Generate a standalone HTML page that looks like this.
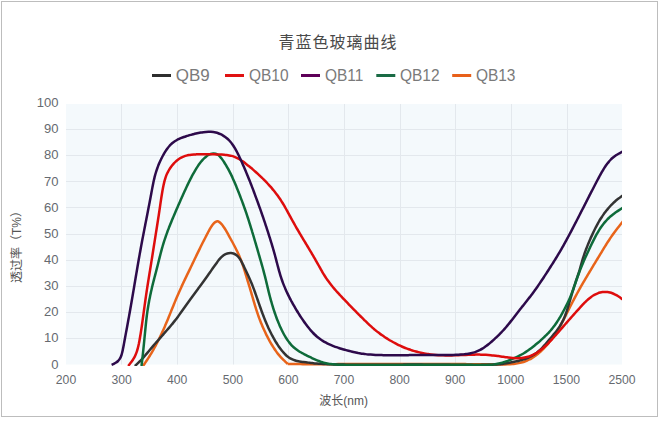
<!DOCTYPE html>
<html lang="zh"><head><meta charset="utf-8"><title>青蓝色玻璃曲线</title>
<style>
html,body{margin:0;padding:0;background:#fff}
body{width:658px;height:426px;position:relative;overflow:hidden;font-family:"Liberation Sans","Noto Sans CJK SC",sans-serif}
#box{position:absolute;left:1px;top:1px;width:655px;height:414px;border:1px solid #bdbdbd;background:#fff}
</style></head><body>
<div id="box"></div>
<svg width="658" height="426" viewBox="0 0 658 426" style="position:absolute;left:0;top:0;display:block" font-family='"Liberation Sans","Noto Sans CJK SC",sans-serif'>
<defs><clipPath id="cp"><rect x="66" y="90" width="556" height="275.9"/></clipPath></defs>
<rect x="66" y="104" width="556" height="260.5" fill="#f4f9fc"/>
<rect x="121" y="104" width="1" height="260.5" fill="#e3e8ed"/>
<rect x="177" y="104" width="1" height="260.5" fill="#e3e8ed"/>
<rect x="233" y="104" width="1" height="260.5" fill="#e3e8ed"/>
<rect x="288" y="104" width="1" height="260.5" fill="#e3e8ed"/>
<rect x="344" y="104" width="1" height="260.5" fill="#e3e8ed"/>
<rect x="400" y="104" width="1" height="260.5" fill="#e3e8ed"/>
<rect x="455" y="104" width="1" height="260.5" fill="#e3e8ed"/>
<rect x="511" y="104" width="1" height="260.5" fill="#e3e8ed"/>
<rect x="567" y="104" width="1" height="260.5" fill="#e3e8ed"/>
<rect x="66" y="129" width="556" height="1" fill="#e3e8ed"/>
<rect x="66" y="155" width="556" height="1" fill="#e3e8ed"/>
<rect x="66" y="181" width="556" height="1" fill="#e3e8ed"/>
<rect x="66" y="207" width="556" height="1" fill="#e3e8ed"/>
<rect x="66" y="234" width="556" height="1" fill="#e3e8ed"/>
<rect x="66" y="260" width="556" height="1" fill="#e3e8ed"/>
<rect x="66" y="286" width="556" height="1" fill="#e3e8ed"/>
<rect x="66" y="312" width="556" height="1" fill="#e3e8ed"/>
<rect x="66" y="338" width="556" height="1" fill="#e3e8ed"/>
<g clip-path="url(#cp)" fill="none" stroke-width="2.5" stroke-linejoin="round" stroke-linecap="butt">
<path d="M143.00 366.00 C143.24 365.65 143.96 364.61 144.43 363.92 C144.91 363.22 145.38 362.52 145.86 361.82 C146.33 361.12 146.79 360.42 147.26 359.72 C147.72 359.01 148.18 358.31 148.64 357.60 C149.09 356.89 149.54 356.17 149.99 355.46 C150.43 354.74 150.87 354.02 151.30 353.30 C151.73 352.57 152.16 351.84 152.58 351.11 C153.00 350.38 153.42 349.65 153.83 348.91 C154.24 348.18 154.65 347.44 155.05 346.70 C155.46 345.96 155.85 345.21 156.25 344.47 C156.64 343.72 157.03 342.97 157.42 342.22 C157.80 341.47 158.18 340.72 158.56 339.96 C158.94 339.21 159.31 338.45 159.68 337.69 C160.05 336.93 160.42 336.17 160.78 335.41 C161.14 334.64 161.50 333.88 161.86 333.11 C162.21 332.35 162.56 331.58 162.91 330.81 C163.26 330.04 163.61 329.27 163.95 328.50 C164.29 327.73 164.63 326.96 164.96 326.18 C165.30 325.41 165.63 324.63 165.96 323.85 C166.29 323.08 166.62 322.30 166.94 321.52 C167.27 320.74 167.59 319.96 167.91 319.18 C168.23 318.39 168.55 317.61 168.86 316.83 C169.18 316.05 169.49 315.26 169.81 314.48 C170.12 313.70 170.43 312.90 170.75 312.13 C171.06 311.35 171.37 310.59 171.68 309.82 C172.00 309.05 172.31 308.28 172.62 307.51 C172.93 306.74 173.24 305.97 173.56 305.21 C173.87 304.44 174.19 303.67 174.50 302.90 C174.82 302.14 175.14 301.37 175.45 300.60 C175.77 299.84 176.09 299.07 176.42 298.31 C176.74 297.54 177.06 296.78 177.39 296.02 C177.72 295.25 178.05 294.49 178.38 293.73 C178.71 292.97 179.04 292.21 179.38 291.45 C179.71 290.69 180.05 289.93 180.39 289.18 C180.73 288.42 181.07 287.66 181.42 286.91 C181.76 286.15 182.11 285.40 182.46 284.65 C182.81 283.90 183.16 283.14 183.51 282.39 C183.87 281.64 184.22 280.89 184.58 280.14 C184.94 279.39 185.30 278.64 185.66 277.90 C186.02 277.15 186.38 276.40 186.74 275.65 C187.11 274.91 187.47 274.16 187.83 273.41 C188.20 272.66 188.56 271.90 188.93 271.14 C189.29 270.38 189.65 269.62 190.02 268.86 C190.38 268.10 190.75 267.33 191.12 266.57 C191.48 265.81 191.85 265.05 192.21 264.29 C192.58 263.53 192.94 262.77 193.31 262.01 C193.67 261.24 194.04 260.48 194.40 259.72 C194.76 258.96 195.13 258.20 195.49 257.44 C195.86 256.68 196.23 255.92 196.59 255.16 C196.96 254.40 197.33 253.64 197.69 252.88 C198.06 252.12 198.43 251.36 198.80 250.60 C199.17 249.84 199.54 249.08 199.92 248.33 C200.29 247.57 200.67 246.81 201.04 246.06 C201.42 245.30 201.80 244.55 202.18 243.80 C202.56 243.04 202.94 242.29 203.33 241.54 C203.71 240.79 204.10 240.04 204.48 239.29 C204.87 238.54 205.25 237.79 205.64 237.03 C206.03 236.28 206.41 235.53 206.80 234.78 C207.18 234.03 207.57 233.28 207.96 232.53 C208.35 231.78 208.73 231.03 209.14 230.29 C209.54 229.54 209.95 228.80 210.38 228.08 C210.82 227.35 211.26 226.62 211.75 225.93 C212.24 225.23 212.74 224.53 213.33 223.91 C213.91 223.28 214.57 222.58 215.26 222.16 C215.96 221.73 216.76 221.32 217.50 221.35 C218.24 221.38 219.01 221.88 219.70 222.35 C220.38 222.82 221.02 223.54 221.60 224.18 C222.18 224.82 222.69 225.50 223.19 226.18 C223.70 226.86 224.16 227.57 224.61 228.28 C225.07 228.99 225.50 229.71 225.93 230.44 C226.36 231.16 226.77 231.90 227.19 232.64 C227.60 233.37 228.00 234.12 228.41 234.86 C228.81 235.60 229.22 236.34 229.63 237.08 C230.03 237.82 230.44 238.56 230.85 239.30 C231.26 240.04 231.67 240.78 232.07 241.52 C232.48 242.26 232.88 243.00 233.28 243.75 C233.68 244.49 234.08 245.24 234.47 245.99 C234.86 246.74 235.25 247.49 235.63 248.24 C236.01 248.99 236.38 249.75 236.75 250.51 C237.12 251.26 237.48 252.02 237.84 252.79 C238.19 253.55 238.54 254.32 238.88 255.09 C239.22 255.87 239.55 256.64 239.87 257.42 C240.20 258.20 240.51 258.98 240.82 259.76 C241.13 260.55 241.43 261.33 241.72 262.13 C242.01 262.92 242.30 263.71 242.58 264.50 C242.85 265.30 243.12 266.10 243.39 266.90 C243.65 267.70 243.91 268.50 244.17 269.31 C244.42 270.11 244.67 270.92 244.91 271.73 C245.16 272.53 245.40 273.33 245.64 274.13 C245.88 274.92 246.12 275.71 246.36 276.51 C246.59 277.30 246.83 278.10 247.07 278.89 C247.31 279.68 247.55 280.48 247.79 281.27 C248.03 282.06 248.27 282.86 248.51 283.65 C248.75 284.44 249.00 285.24 249.24 286.03 C249.48 286.82 249.72 287.62 249.96 288.41 C250.20 289.20 250.44 290.00 250.68 290.79 C250.91 291.58 251.15 292.38 251.38 293.17 C251.61 293.97 251.85 294.77 252.08 295.56 C252.31 296.36 252.54 297.15 252.77 297.95 C253.00 298.75 253.23 299.54 253.46 300.34 C253.69 301.13 253.92 301.93 254.16 302.72 C254.39 303.52 254.63 304.31 254.87 305.11 C255.11 305.90 255.35 306.69 255.60 307.48 C255.85 308.27 256.10 309.06 256.35 309.85 C256.61 310.64 256.87 311.42 257.13 312.22 C257.40 313.01 257.66 313.82 257.94 314.61 C258.22 315.41 258.50 316.21 258.78 317.00 C259.07 317.79 259.36 318.59 259.66 319.37 C259.96 320.16 260.27 320.95 260.58 321.73 C260.89 322.52 261.21 323.30 261.54 324.08 C261.86 324.86 262.19 325.64 262.53 326.41 C262.87 327.19 263.21 327.96 263.55 328.73 C263.90 329.50 264.25 330.27 264.61 331.03 C264.97 331.80 265.33 332.57 265.70 333.33 C266.06 334.09 266.43 334.85 266.81 335.61 C267.19 336.36 267.57 337.12 267.96 337.87 C268.35 338.62 268.74 339.37 269.15 340.11 C269.55 340.85 269.96 341.60 270.37 342.33 C270.79 343.07 271.21 343.80 271.65 344.52 C272.08 345.25 272.52 345.97 272.97 346.69 C273.42 347.40 273.88 348.11 274.34 348.81 C274.81 349.51 275.29 350.21 275.78 350.89 C276.27 351.58 276.77 352.25 277.28 352.92 C277.80 353.59 278.32 354.25 278.86 354.89 C279.39 355.54 279.94 356.18 280.50 356.80 C281.07 357.43 281.64 358.05 282.22 358.65 C282.81 359.26 283.40 359.86 284.00 360.45 C284.60 361.04 285.22 361.61 285.84 362.19 C286.45 362.76 287.39 363.61 287.70 363.90 M287.70 363.90 C288.12 363.91 289.38 363.93 290.22 363.95 C291.07 363.97 291.91 363.98 292.75 364.00 C293.59 364.01 294.43 364.03 295.27 364.04 C296.11 364.05 296.96 364.06 297.80 364.07 C298.64 364.09 299.48 364.10 300.32 364.10 C301.16 364.11 302.00 364.12 302.85 364.13 C303.69 364.14 304.53 364.14 305.37 364.15 C306.21 364.15 307.05 364.16 307.90 364.16 C308.74 364.17 309.58 364.17 310.42 364.17 C311.26 364.18 312.10 364.18 312.94 364.18 C313.79 364.18 314.63 364.18 315.47 364.18 C316.31 364.18 317.15 364.18 317.99 364.18 C318.84 364.18 319.68 364.18 320.52 364.18 C321.36 364.18 322.20 364.18 323.04 364.17 C323.89 364.17 324.73 364.17 325.57 364.17 C326.41 364.16 327.25 364.16 328.09 364.16 C328.94 364.15 329.78 364.15 330.62 364.15 C331.46 364.14 332.30 364.14 333.14 364.14 C333.99 364.13 334.83 364.13 335.67 364.13 C336.51 364.12 337.35 364.12 338.20 364.12 C339.04 364.12 339.88 364.11 340.72 364.11 C341.56 364.11 342.40 364.10 343.25 364.10 C344.09 364.10 344.93 364.10 345.77 364.09 C346.61 364.09 347.45 364.09 348.30 364.09 C349.14 364.09 349.98 364.08 350.82 364.08 C351.66 364.08 352.50 364.08 353.35 364.08 C354.19 364.08 355.03 364.08 355.87 364.08 C356.71 364.07 357.56 364.07 358.40 364.07 C359.24 364.07 360.08 364.07 360.92 364.07 C361.76 364.07 362.61 364.07 363.45 364.07 C364.29 364.07 365.13 364.07 365.97 364.07 C366.81 364.07 367.66 364.07 368.50 364.07 C369.34 364.07 370.18 364.07 371.02 364.07 C371.86 364.07 372.71 364.07 373.55 364.07 C374.39 364.07 375.23 364.07 376.07 364.07 C376.91 364.07 377.76 364.07 378.60 364.07 C379.44 364.07 380.28 364.07 381.12 364.07 C381.96 364.07 382.81 364.07 383.65 364.08 C384.49 364.08 385.33 364.08 386.17 364.08 C387.01 364.08 387.86 364.08 388.70 364.08 C389.54 364.08 390.38 364.08 391.22 364.08 C392.06 364.08 392.91 364.08 393.75 364.08 C394.59 364.08 395.43 364.09 396.27 364.09 C397.11 364.09 397.96 364.09 398.80 364.09 C399.64 364.09 400.48 364.09 401.32 364.09 C402.16 364.09 403.00 364.09 403.85 364.09 C404.69 364.09 405.53 364.09 406.37 364.09 C407.21 364.09 408.05 364.09 408.90 364.09 C409.74 364.10 410.58 364.10 411.42 364.10 C412.26 364.10 413.10 364.10 413.94 364.10 C414.79 364.10 415.63 364.10 416.47 364.10 C417.31 364.10 418.15 364.10 418.99 364.10 C419.83 364.10 420.67 364.10 421.52 364.09 C422.36 364.09 423.20 364.09 424.04 364.09 C424.88 364.09 425.72 364.09 426.56 364.09 C427.41 364.09 428.25 364.09 429.09 364.09 C429.93 364.09 430.77 364.09 431.61 364.09 C432.45 364.09 433.29 364.09 434.14 364.08 C434.98 364.08 435.82 364.08 436.66 364.08 C437.50 364.08 438.34 364.08 439.18 364.08 C440.02 364.08 440.87 364.08 441.71 364.08 C442.55 364.08 443.39 364.08 444.23 364.08 C445.07 364.08 445.91 364.08 446.75 364.08 C447.60 364.08 448.44 364.08 449.28 364.08 C450.12 364.08 450.96 364.08 451.80 364.08 C452.64 364.08 453.49 364.08 454.33 364.09 C455.17 364.09 456.01 364.09 456.85 364.09 C457.69 364.09 458.53 364.09 459.38 364.10 C460.22 364.10 461.06 364.10 461.90 364.10 C462.74 364.11 463.58 364.11 464.43 364.11 C465.27 364.12 466.11 364.12 466.95 364.13 C467.79 364.13 468.63 364.13 469.48 364.14 C470.32 364.14 471.16 364.15 472.00 364.15 C472.84 364.16 473.69 364.17 474.53 364.17 C475.37 364.18 476.21 364.18 477.05 364.19 C477.90 364.20 478.74 364.21 479.58 364.21 C480.42 364.22 481.26 364.23 482.11 364.24 C482.95 364.25 483.79 364.26 484.63 364.27 C485.48 364.28 486.32 364.29 487.16 364.30 C488.00 364.31 488.85 364.32 489.69 364.33 C490.53 364.34 491.37 364.36 492.22 364.37 C493.06 364.38 493.90 364.39 494.75 364.40 C495.59 364.42 496.43 364.43 497.28 364.43 C498.12 364.44 498.96 364.44 499.80 364.45 C500.65 364.45 501.49 364.45 502.33 364.44 C503.18 364.43 504.02 364.42 504.86 364.41 C505.71 364.39 506.55 364.37 507.39 364.34 C508.24 364.31 509.08 364.27 509.92 364.22 C510.76 364.17 511.60 364.11 512.44 364.04 C513.28 363.96 514.12 363.87 514.95 363.76 C515.79 363.65 516.62 363.52 517.45 363.38 C518.28 363.23 519.10 363.06 519.92 362.87 C520.74 362.68 521.55 362.48 522.36 362.24 C523.16 362.01 523.96 361.75 524.75 361.47 C525.54 361.19 526.32 360.89 527.10 360.56 C527.87 360.23 528.63 359.88 529.38 359.50 C530.13 359.12 530.86 358.72 531.59 358.30 C532.31 357.88 533.02 357.43 533.73 356.97 C534.43 356.50 535.11 356.01 535.79 355.51 C536.47 355.01 537.13 354.49 537.79 353.96 C538.44 353.42 539.08 352.88 539.72 352.32 C540.35 351.76 540.97 351.19 541.58 350.61 C542.19 350.03 542.80 349.44 543.39 348.84 C543.98 348.24 544.56 347.63 545.13 347.01 C545.70 346.39 546.26 345.76 546.82 345.12 C547.37 344.48 547.91 343.84 548.44 343.18 C548.97 342.53 549.49 341.87 550.01 341.20 C550.52 340.53 551.03 339.86 551.52 339.18 C552.02 338.50 552.51 337.82 553.00 337.13 C553.49 336.44 553.97 335.75 554.44 335.05 C554.92 334.36 555.39 333.66 555.85 332.95 C556.32 332.25 556.77 331.54 557.23 330.83 C557.68 330.12 558.12 329.41 558.56 328.69 C559.00 327.97 559.43 327.25 559.86 326.53 C560.28 325.80 560.70 325.07 561.11 324.34 C561.52 323.60 561.92 322.86 562.32 322.12 C562.71 321.38 563.10 320.63 563.49 319.88 C563.87 319.14 564.25 318.39 564.63 317.63 C565.01 316.88 565.38 316.13 565.75 315.37 C566.13 314.62 566.50 313.86 566.88 313.11 C567.25 312.36 567.62 311.61 568.00 310.87 C568.37 310.13 568.75 309.39 569.13 308.66 C569.50 307.92 569.88 307.18 570.26 306.45 C570.64 305.71 571.02 304.97 571.40 304.24 C571.78 303.50 572.17 302.77 572.55 302.03 C572.93 301.30 573.32 300.56 573.70 299.83 C574.09 299.10 574.48 298.36 574.86 297.63 C575.25 296.90 575.64 296.17 576.04 295.44 C576.43 294.71 576.82 293.98 577.22 293.25 C577.61 292.53 578.01 291.80 578.41 291.07 C578.81 290.35 579.21 289.62 579.61 288.90 C580.02 288.18 580.42 287.45 580.83 286.73 C581.24 286.01 581.65 285.29 582.06 284.57 C582.48 283.86 582.89 283.14 583.31 282.42 C583.73 281.71 584.15 280.99 584.57 280.28 C584.99 279.56 585.42 278.85 585.84 278.14 C586.26 277.43 586.69 276.72 587.12 276.01 C587.54 275.29 587.97 274.59 588.40 273.87 C588.83 273.16 589.26 272.44 589.69 271.72 C590.12 271.01 590.55 270.28 590.98 269.56 C591.41 268.83 591.85 268.11 592.28 267.39 C592.71 266.67 593.15 265.95 593.58 265.23 C594.02 264.51 594.46 263.79 594.89 263.07 C595.33 262.35 595.77 261.63 596.20 260.91 C596.64 260.19 597.08 259.47 597.52 258.75 C597.96 258.04 598.40 257.32 598.83 256.60 C599.27 255.88 599.71 255.16 600.15 254.44 C600.58 253.72 601.02 253.00 601.46 252.28 C601.89 251.56 602.33 250.84 602.76 250.12 C603.20 249.40 603.64 248.68 604.07 247.96 C604.51 247.25 604.95 246.53 605.39 245.81 C605.84 245.10 606.28 244.38 606.73 243.67 C607.18 242.96 607.63 242.25 608.09 241.54 C608.54 240.84 609.00 240.13 609.47 239.43 C609.93 238.73 610.40 238.03 610.87 237.34 C611.35 236.65 611.83 235.95 612.31 235.27 C612.79 234.58 613.28 233.89 613.77 233.21 C614.26 232.53 614.76 231.85 615.26 231.18 C615.77 230.50 616.27 229.83 616.78 229.16 C617.29 228.49 617.80 227.82 618.32 227.16 C618.83 226.49 619.35 225.83 619.87 225.17 C620.39 224.50 620.91 223.84 621.43 223.18 C621.95 222.52 622.74 221.53 623.00 221.20" stroke="#e8641a"/>
<path d="M134.80 366.00 C135.11 365.72 136.03 364.87 136.64 364.29 C137.25 363.72 137.86 363.15 138.46 362.57 C139.07 361.99 139.66 361.41 140.25 360.81 C140.84 360.22 141.42 359.62 141.99 359.01 C142.57 358.40 143.13 357.79 143.68 357.16 C144.24 356.54 144.79 355.91 145.33 355.27 C145.88 354.64 146.42 354.00 146.96 353.36 C147.49 352.72 148.03 352.07 148.56 351.43 C149.10 350.79 149.64 350.14 150.17 349.50 C150.71 348.86 151.25 348.22 151.79 347.58 C152.34 346.94 152.88 346.30 153.43 345.67 C153.97 345.03 154.52 344.40 155.07 343.77 C155.62 343.13 156.17 342.50 156.72 341.87 C157.27 341.24 157.82 340.61 158.37 339.98 C158.92 339.34 159.48 338.72 160.03 338.09 C160.58 337.46 161.13 336.83 161.69 336.20 C162.24 335.57 162.79 334.94 163.35 334.31 C163.90 333.68 164.45 333.05 165.00 332.42 C165.55 331.79 166.10 331.16 166.65 330.52 C167.20 329.89 167.75 329.26 168.30 328.62 C168.84 327.99 169.39 327.35 169.93 326.71 C170.47 326.08 171.01 325.44 171.54 324.79 C172.08 324.15 172.61 323.50 173.14 322.85 C173.67 322.20 174.19 321.55 174.71 320.89 C175.23 320.24 175.74 319.58 176.25 318.91 C176.76 318.25 177.26 317.58 177.76 316.91 C178.26 316.24 178.75 315.56 179.24 314.88 C179.73 314.20 180.22 313.52 180.70 312.84 C181.19 312.16 181.67 311.49 182.15 310.81 C182.63 310.14 183.11 309.46 183.58 308.79 C184.06 308.12 184.54 307.44 185.01 306.76 C185.49 306.09 185.96 305.41 186.44 304.74 C186.92 304.06 187.40 303.39 187.88 302.72 C188.36 302.05 188.84 301.37 189.32 300.70 C189.81 300.03 190.29 299.36 190.78 298.70 C191.27 298.03 191.75 297.36 192.24 296.69 C192.73 296.03 193.22 295.36 193.71 294.70 C194.20 294.03 194.69 293.37 195.18 292.70 C195.67 292.04 196.17 291.37 196.66 290.71 C197.15 290.05 197.64 289.38 198.13 288.72 C198.63 288.06 199.12 287.39 199.61 286.73 C200.10 286.06 200.59 285.40 201.08 284.74 C201.57 284.07 202.06 283.41 202.55 282.74 C203.03 282.07 203.52 281.41 204.00 280.74 C204.48 280.07 204.96 279.40 205.44 278.73 C205.92 278.06 206.40 277.38 206.87 276.71 C207.35 276.04 207.82 275.36 208.30 274.69 C208.77 274.01 209.25 273.34 209.73 272.66 C210.20 271.98 210.68 271.28 211.16 270.60 C211.64 269.91 212.12 269.22 212.60 268.54 C213.08 267.85 213.57 267.16 214.06 266.48 C214.55 265.80 215.04 265.11 215.53 264.43 C216.03 263.74 216.52 263.06 217.03 262.38 C217.53 261.70 218.04 261.01 218.56 260.34 C219.08 259.68 219.61 259.01 220.18 258.39 C220.74 257.77 221.32 257.16 221.94 256.60 C222.57 256.05 223.23 255.52 223.92 255.06 C224.62 254.61 225.37 254.19 226.14 253.88 C226.91 253.56 227.72 253.31 228.54 253.17 C229.35 253.02 230.21 252.97 231.03 253.02 C231.86 253.07 232.70 253.23 233.48 253.49 C234.25 253.75 235.01 254.13 235.70 254.58 C236.39 255.03 237.03 255.60 237.62 256.19 C238.21 256.77 238.75 257.44 239.26 258.11 C239.76 258.78 240.22 259.49 240.65 260.21 C241.09 260.93 241.49 261.68 241.89 262.42 C242.29 263.17 242.66 263.93 243.04 264.68 C243.42 265.44 243.79 266.19 244.15 266.95 C244.52 267.71 244.87 268.47 245.23 269.23 C245.59 269.99 245.94 270.75 246.29 271.51 C246.65 272.27 247.00 273.02 247.35 273.77 C247.70 274.52 248.05 275.26 248.39 276.01 C248.74 276.76 249.08 277.50 249.41 278.25 C249.75 279.01 250.08 279.76 250.40 280.51 C250.73 281.27 251.05 282.03 251.36 282.79 C251.67 283.55 251.98 284.31 252.28 285.07 C252.59 285.83 252.89 286.60 253.18 287.37 C253.47 288.14 253.76 288.90 254.05 289.68 C254.34 290.45 254.62 291.22 254.90 291.99 C255.18 292.76 255.46 293.54 255.73 294.31 C256.00 295.09 256.27 295.87 256.54 296.64 C256.82 297.42 257.08 298.20 257.35 298.98 C257.62 299.75 257.89 300.53 258.16 301.31 C258.42 302.09 258.69 302.87 258.96 303.64 C259.23 304.42 259.50 305.20 259.78 305.97 C260.05 306.75 260.32 307.53 260.60 308.30 C260.88 309.08 261.16 309.85 261.44 310.62 C261.73 311.40 262.01 312.17 262.30 312.96 C262.59 313.74 262.89 314.53 263.19 315.31 C263.48 316.09 263.78 316.87 264.09 317.65 C264.40 318.43 264.71 319.21 265.02 319.99 C265.34 320.76 265.66 321.54 265.98 322.31 C266.31 323.08 266.64 323.85 266.97 324.62 C267.31 325.39 267.65 326.15 268.00 326.92 C268.34 327.68 268.69 328.44 269.05 329.20 C269.41 329.95 269.77 330.71 270.14 331.46 C270.51 332.21 270.88 332.96 271.27 333.71 C271.65 334.46 272.04 335.20 272.43 335.94 C272.82 336.68 273.23 337.42 273.63 338.15 C274.04 338.88 274.46 339.61 274.88 340.33 C275.31 341.06 275.74 341.78 276.18 342.49 C276.62 343.21 277.07 343.92 277.53 344.62 C277.99 345.32 278.45 346.02 278.93 346.71 C279.41 347.40 279.90 348.08 280.41 348.76 C280.91 349.43 281.43 350.10 281.96 350.75 C282.49 351.40 283.03 352.05 283.59 352.68 C284.15 353.30 284.73 353.92 285.33 354.50 C285.93 355.09 286.54 355.66 287.18 356.19 C287.83 356.71 288.49 357.21 289.18 357.67 C289.88 358.13 290.60 358.55 291.33 358.92 C292.07 359.30 292.83 359.64 293.60 359.94 C294.37 360.25 295.17 360.50 295.97 360.73 C296.77 360.96 297.58 361.14 298.40 361.30 C299.22 361.47 300.05 361.60 300.89 361.73 C301.72 361.85 302.56 361.95 303.40 362.06 C304.24 362.16 305.08 362.25 305.91 362.35 C306.75 362.44 307.59 362.54 308.43 362.63 C309.26 362.73 310.10 362.82 310.93 362.91 C311.77 363.00 312.60 363.09 313.44 363.17 C314.27 363.26 315.10 363.34 315.94 363.41 C316.77 363.49 317.61 363.56 318.44 363.63 C319.28 363.70 320.11 363.76 320.95 363.82 C321.78 363.88 322.61 363.93 323.45 363.99 C324.29 364.04 325.12 364.08 325.96 364.12 C326.79 364.17 327.63 364.20 328.46 364.24 C329.30 364.27 330.14 364.30 330.97 364.33 C331.81 364.36 332.64 364.39 333.48 364.41 C334.32 364.44 335.15 364.46 335.99 364.48 C336.83 364.50 337.66 364.51 338.50 364.53 C339.34 364.55 340.18 364.56 341.01 364.58 C341.85 364.59 342.69 364.60 343.52 364.62 C344.36 364.63 345.20 364.64 346.03 364.65 C346.87 364.66 347.71 364.67 348.55 364.68 C349.38 364.69 350.22 364.70 351.06 364.70 C351.89 364.71 352.73 364.72 353.57 364.72 C354.41 364.73 355.24 364.73 356.08 364.74 C356.92 364.74 357.75 364.75 358.59 364.75 C359.43 364.75 360.27 364.76 361.10 364.76 C361.94 364.76 362.78 364.76 363.61 364.76 C364.45 364.76 365.29 364.76 366.13 364.76 C366.96 364.76 367.80 364.76 368.64 364.76 C369.48 364.76 370.31 364.76 371.15 364.76 C371.99 364.76 372.83 364.76 373.66 364.75 C374.50 364.75 375.34 364.75 376.18 364.74 C377.01 364.74 377.85 364.74 378.69 364.74 C379.53 364.73 380.36 364.73 381.20 364.72 C382.04 364.72 382.88 364.72 383.71 364.71 C384.55 364.71 385.39 364.70 386.23 364.70 C387.06 364.70 387.90 364.69 388.74 364.69 C389.58 364.68 390.42 364.68 391.25 364.67 C392.09 364.67 392.93 364.67 393.77 364.66 C394.60 364.66 395.44 364.65 396.28 364.65 C397.12 364.65 397.96 364.64 398.79 364.64 C399.63 364.64 400.47 364.63 401.31 364.63 C402.15 364.63 402.98 364.62 403.82 364.62 C404.66 364.62 405.50 364.61 406.33 364.61 C407.17 364.61 408.01 364.61 408.85 364.61 C409.69 364.61 410.52 364.61 411.36 364.61 C412.20 364.61 413.04 364.61 413.88 364.61 C414.72 364.61 415.55 364.61 416.39 364.61 C417.23 364.61 418.07 364.61 418.91 364.62 C419.74 364.62 420.58 364.62 421.42 364.62 C422.26 364.63 423.10 364.63 423.93 364.64 C424.77 364.64 425.61 364.65 426.45 364.65 C427.29 364.66 428.13 364.67 428.96 364.67 C429.80 364.68 430.64 364.69 431.48 364.69 C432.32 364.70 433.15 364.71 433.99 364.72 C434.83 364.72 435.67 364.73 436.51 364.74 C437.35 364.75 438.18 364.76 439.02 364.77 C439.86 364.77 440.70 364.78 441.54 364.79 C442.37 364.80 443.21 364.81 444.05 364.81 C444.89 364.82 445.73 364.83 446.57 364.84 C447.40 364.85 448.24 364.85 449.08 364.86 C449.92 364.87 450.76 364.88 451.59 364.88 C452.43 364.89 453.27 364.90 454.11 364.90 C454.94 364.91 455.78 364.91 456.62 364.92 C457.46 364.92 458.30 364.93 459.13 364.93 C459.97 364.94 460.81 364.94 461.65 364.94 C462.48 364.95 463.32 364.95 464.16 364.95 C465.00 364.95 465.83 364.95 466.67 364.95 C467.51 364.95 468.35 364.95 469.18 364.95 C470.02 364.95 470.86 364.95 471.70 364.95 C472.53 364.94 473.37 364.94 474.21 364.93 C475.04 364.93 475.88 364.92 476.72 364.91 C477.56 364.91 478.39 364.90 479.23 364.89 C480.07 364.88 480.90 364.87 481.74 364.86 C482.58 364.85 483.41 364.83 484.25 364.82 C485.09 364.80 485.92 364.79 486.76 364.77 C487.60 364.75 488.43 364.74 489.27 364.72 C490.10 364.70 490.94 364.68 491.78 364.65 C492.61 364.63 493.45 364.60 494.28 364.56 C495.12 364.52 495.95 364.48 496.78 364.43 C497.62 364.37 498.45 364.30 499.28 364.22 C500.11 364.14 500.94 364.04 501.77 363.93 C502.59 363.82 503.42 363.69 504.25 363.57 C505.07 363.44 505.90 363.30 506.73 363.16 C507.55 363.02 508.38 362.88 509.21 362.73 C510.03 362.58 510.86 362.42 511.68 362.27 C512.51 362.11 513.33 361.95 514.16 361.78 C514.98 361.61 515.80 361.44 516.63 361.27 C517.45 361.09 518.27 360.90 519.08 360.71 C519.90 360.51 520.71 360.30 521.52 360.08 C522.32 359.85 523.13 359.61 523.92 359.35 C524.72 359.09 525.51 358.82 526.29 358.52 C527.07 358.22 527.84 357.90 528.60 357.56 C529.36 357.22 530.11 356.85 530.85 356.46 C531.58 356.08 532.31 355.66 533.02 355.23 C533.73 354.79 534.43 354.33 535.11 353.86 C535.79 353.38 536.46 352.88 537.12 352.36 C537.77 351.84 538.42 351.31 539.04 350.75 C539.67 350.20 540.28 349.63 540.88 349.05 C541.48 348.47 542.07 347.87 542.64 347.26 C543.22 346.65 543.79 346.03 544.35 345.41 C544.91 344.78 545.46 344.15 546.01 343.51 C546.56 342.87 547.10 342.23 547.65 341.59 C548.20 340.95 548.74 340.30 549.29 339.66 C549.83 339.02 550.38 338.38 550.93 337.74 C551.48 337.10 552.03 336.46 552.57 335.82 C553.11 335.18 553.66 334.54 554.19 333.89 C554.72 333.24 555.25 332.59 555.76 331.93 C556.28 331.27 556.79 330.61 557.28 329.93 C557.78 329.26 558.26 328.58 558.73 327.89 C559.19 327.20 559.65 326.50 560.08 325.79 C560.52 325.08 560.94 324.36 561.35 323.63 C561.76 322.90 562.15 322.16 562.53 321.42 C562.91 320.68 563.27 319.92 563.62 319.17 C563.97 318.41 564.31 317.64 564.63 316.87 C564.95 316.10 565.25 315.32 565.54 314.54 C565.84 313.75 566.11 312.96 566.38 312.17 C566.65 311.39 566.91 310.61 567.16 309.83 C567.41 309.04 567.65 308.26 567.89 307.47 C568.13 306.68 568.37 305.89 568.60 305.10 C568.84 304.31 569.07 303.52 569.30 302.73 C569.53 301.94 569.76 301.15 570.00 300.36 C570.23 299.57 570.46 298.78 570.69 297.99 C570.92 297.20 571.16 296.41 571.39 295.62 C571.62 294.83 571.86 294.04 572.10 293.25 C572.33 292.47 572.57 291.68 572.81 290.89 C573.05 290.11 573.29 289.32 573.54 288.53 C573.78 287.75 574.03 286.97 574.28 286.18 C574.53 285.40 574.78 284.62 575.04 283.83 C575.29 283.05 575.55 282.27 575.81 281.49 C576.06 280.71 576.33 279.93 576.59 279.16 C576.86 278.38 577.12 277.60 577.39 276.83 C577.66 276.05 577.93 275.28 578.19 274.50 C578.45 273.72 578.71 272.94 578.97 272.15 C579.22 271.36 579.46 270.55 579.70 269.75 C579.93 268.95 580.16 268.14 580.38 267.34 C580.61 266.53 580.82 265.72 581.04 264.92 C581.27 264.11 581.48 263.30 581.71 262.50 C581.94 261.70 582.17 260.89 582.41 260.09 C582.65 259.29 582.89 258.49 583.15 257.69 C583.40 256.89 583.66 256.10 583.93 255.31 C584.19 254.51 584.46 253.72 584.74 252.93 C585.02 252.14 585.31 251.36 585.60 250.57 C585.89 249.79 586.18 249.00 586.49 248.22 C586.79 247.44 587.09 246.66 587.41 245.88 C587.72 245.10 588.03 244.33 588.35 243.55 C588.68 242.78 589.00 242.01 589.33 241.24 C589.66 240.46 589.99 239.69 590.33 238.93 C590.66 238.16 591.00 237.39 591.35 236.63 C591.69 235.86 592.04 235.10 592.40 234.34 C592.75 233.58 593.11 232.82 593.47 232.06 C593.83 231.31 594.20 230.55 594.57 229.80 C594.94 229.05 595.31 228.30 595.69 227.55 C596.08 226.80 596.46 226.06 596.86 225.32 C597.25 224.58 597.65 223.85 598.06 223.11 C598.47 222.38 598.89 221.66 599.32 220.94 C599.74 220.22 600.18 219.50 600.63 218.79 C601.07 218.09 601.53 217.38 602.00 216.69 C602.46 215.99 602.94 215.30 603.42 214.62 C603.91 213.94 604.40 213.26 604.91 212.59 C605.41 211.92 605.93 211.26 606.45 210.60 C606.97 209.95 607.50 209.30 608.04 208.66 C608.58 208.02 609.13 207.39 609.69 206.76 C610.24 206.14 610.81 205.52 611.39 204.92 C611.97 204.31 612.56 203.72 613.16 203.14 C613.76 202.56 614.37 201.99 615.00 201.44 C615.62 200.89 616.26 200.35 616.91 199.83 C617.56 199.31 618.23 198.80 618.90 198.30 C619.57 197.80 620.25 197.32 620.93 196.83 C621.62 196.35 622.66 195.64 623.00 195.40" stroke="#333333"/>
<path d="M141.50 366.00 C141.55 365.58 141.69 364.34 141.79 363.51 C141.89 362.68 141.98 361.85 142.08 361.02 C142.18 360.19 142.27 359.36 142.37 358.53 C142.46 357.70 142.55 356.87 142.65 356.03 C142.74 355.20 142.83 354.37 142.92 353.54 C143.01 352.71 143.10 351.88 143.19 351.05 C143.27 350.22 143.36 349.39 143.44 348.55 C143.53 347.72 143.61 346.89 143.70 346.06 C143.78 345.23 143.87 344.40 143.95 343.56 C144.03 342.73 144.11 341.90 144.20 341.07 C144.28 340.24 144.36 339.40 144.44 338.57 C144.52 337.74 144.60 336.91 144.69 336.08 C144.77 335.24 144.85 334.41 144.93 333.58 C145.01 332.75 145.09 331.91 145.18 331.08 C145.26 330.25 145.34 329.42 145.42 328.59 C145.50 327.75 145.59 326.92 145.67 326.09 C145.76 325.26 145.84 324.43 145.93 323.60 C146.01 322.76 146.10 321.93 146.19 321.10 C146.28 320.27 146.38 319.44 146.47 318.61 C146.57 317.78 146.67 316.95 146.77 316.12 C146.88 315.29 146.99 314.46 147.10 313.63 C147.21 312.81 147.32 311.98 147.44 311.17 C147.56 310.35 147.68 309.55 147.81 308.74 C147.94 307.93 148.07 307.12 148.20 306.31 C148.34 305.50 148.47 304.70 148.62 303.89 C148.76 303.08 148.90 302.27 149.05 301.47 C149.20 300.66 149.35 299.86 149.51 299.05 C149.66 298.25 149.82 297.44 149.99 296.64 C150.15 295.84 150.32 295.03 150.49 294.23 C150.66 293.43 150.83 292.63 151.01 291.83 C151.18 291.03 151.36 290.23 151.55 289.43 C151.73 288.63 151.92 287.83 152.10 287.03 C152.29 286.24 152.49 285.44 152.68 284.64 C152.88 283.85 153.08 283.05 153.28 282.25 C153.48 281.46 153.68 280.66 153.89 279.87 C154.09 279.08 154.30 278.28 154.50 277.49 C154.71 276.69 154.92 275.90 155.13 275.11 C155.34 274.31 155.55 273.53 155.76 272.72 C155.96 271.92 156.17 271.11 156.38 270.30 C156.59 269.49 156.80 268.68 157.01 267.87 C157.22 267.06 157.43 266.25 157.63 265.44 C157.84 264.63 158.04 263.81 158.25 263.00 C158.45 262.19 158.65 261.38 158.85 260.57 C159.06 259.76 159.26 258.95 159.46 258.14 C159.66 257.33 159.87 256.51 160.07 255.70 C160.28 254.89 160.49 254.08 160.70 253.27 C160.91 252.47 161.12 251.66 161.33 250.85 C161.55 250.04 161.77 249.24 161.99 248.43 C162.22 247.63 162.45 246.82 162.68 246.02 C162.92 245.22 163.16 244.42 163.40 243.62 C163.65 242.82 163.90 242.03 164.15 241.23 C164.41 240.44 164.66 239.64 164.93 238.85 C165.19 238.06 165.46 237.27 165.73 236.48 C166.01 235.69 166.28 234.90 166.57 234.11 C166.85 233.32 167.13 232.54 167.42 231.76 C167.71 230.97 168.01 230.19 168.31 229.41 C168.60 228.63 168.91 227.85 169.21 227.07 C169.51 226.29 169.82 225.51 170.13 224.74 C170.44 223.96 170.76 223.19 171.07 222.41 C171.39 221.64 171.71 220.87 172.03 220.09 C172.35 219.32 172.67 218.55 172.99 217.78 C173.32 217.01 173.64 216.24 173.97 215.47 C174.29 214.70 174.62 213.93 174.95 213.16 C175.28 212.39 175.61 211.62 175.94 210.85 C176.27 210.09 176.60 209.32 176.94 208.55 C177.27 207.78 177.60 207.02 177.93 206.25 C178.27 205.48 178.60 204.72 178.94 203.95 C179.27 203.18 179.61 202.42 179.95 201.65 C180.28 200.89 180.62 200.12 180.96 199.36 C181.30 198.59 181.64 197.83 181.98 197.06 C182.32 196.30 182.66 195.53 183.00 194.77 C183.34 194.01 183.68 193.25 184.03 192.48 C184.37 191.72 184.72 190.96 185.07 190.20 C185.41 189.44 185.77 188.68 186.12 187.92 C186.47 187.16 186.83 186.41 187.19 185.65 C187.55 184.90 187.91 184.14 188.28 183.39 C188.64 182.64 189.01 181.89 189.39 181.14 C189.76 180.39 190.14 179.64 190.52 178.90 C190.90 178.16 191.29 177.41 191.68 176.67 C192.08 175.94 192.47 175.20 192.88 174.46 C193.28 173.73 193.69 173.00 194.10 172.27 C194.51 171.55 194.93 170.82 195.36 170.10 C195.79 169.38 196.22 168.66 196.66 167.95 C197.11 167.25 197.56 166.54 198.03 165.85 C198.49 165.15 198.97 164.47 199.47 163.79 C199.96 163.12 200.47 162.45 201.00 161.80 C201.52 161.15 202.07 160.51 202.64 159.89 C203.20 159.27 203.79 158.67 204.40 158.09 C205.02 157.51 205.65 156.93 206.32 156.42 C206.98 155.90 207.67 155.40 208.40 154.99 C209.13 154.59 209.90 154.22 210.69 153.98 C211.48 153.74 212.33 153.57 213.15 153.54 C213.96 153.51 214.82 153.59 215.60 153.80 C216.39 154.01 217.15 154.35 217.84 154.79 C218.53 155.22 219.15 155.80 219.74 156.40 C220.33 156.99 220.87 157.68 221.40 158.34 C221.93 159.01 222.42 159.70 222.91 160.39 C223.39 161.08 223.86 161.78 224.31 162.49 C224.77 163.19 225.21 163.91 225.64 164.62 C226.07 165.34 226.49 166.06 226.91 166.79 C227.33 167.51 227.74 168.24 228.14 168.97 C228.55 169.70 228.94 170.44 229.33 171.18 C229.72 171.92 230.10 172.66 230.47 173.41 C230.84 174.15 231.21 174.90 231.57 175.66 C231.93 176.41 232.28 177.17 232.62 177.93 C232.97 178.69 233.31 179.45 233.64 180.22 C233.98 180.98 234.30 181.75 234.63 182.52 C234.96 183.29 235.28 184.06 235.60 184.84 C235.92 185.61 236.24 186.38 236.55 187.16 C236.87 187.93 237.18 188.70 237.50 189.48 C237.81 190.26 238.12 191.03 238.43 191.81 C238.74 192.59 239.04 193.37 239.35 194.14 C239.65 194.92 239.96 195.70 240.26 196.48 C240.56 197.26 240.86 198.04 241.15 198.83 C241.45 199.61 241.75 200.39 242.04 201.17 C242.33 201.96 242.62 202.74 242.91 203.53 C243.20 204.31 243.48 205.10 243.77 205.88 C244.05 206.67 244.33 207.46 244.61 208.25 C244.89 209.03 245.17 209.82 245.44 210.61 C245.71 211.40 245.99 212.19 246.25 212.98 C246.52 213.78 246.79 214.57 247.05 215.36 C247.32 216.15 247.58 216.95 247.84 217.74 C248.10 218.54 248.35 219.33 248.61 220.13 C248.87 220.92 249.12 221.72 249.37 222.52 C249.62 223.31 249.87 224.11 250.12 224.91 C250.37 225.71 250.62 226.51 250.86 227.31 C251.11 228.11 251.35 228.91 251.60 229.71 C251.84 230.51 252.08 231.31 252.32 232.11 C252.56 232.91 252.80 233.71 253.04 234.51 C253.28 235.31 253.52 236.11 253.76 236.91 C253.99 237.71 254.23 238.52 254.47 239.32 C254.70 240.12 254.94 240.92 255.17 241.73 C255.41 242.53 255.64 243.33 255.88 244.13 C256.11 244.94 256.34 245.74 256.58 246.54 C256.81 247.34 257.04 248.15 257.28 248.95 C257.51 249.75 257.74 250.56 257.98 251.36 C258.21 252.16 258.44 252.96 258.67 253.77 C258.91 254.57 259.14 255.37 259.37 256.18 C259.60 256.98 259.83 257.78 260.07 258.59 C260.30 259.39 260.53 260.19 260.76 261.00 C260.99 261.80 261.22 262.60 261.45 263.41 C261.68 264.21 261.91 265.01 262.14 265.82 C262.36 266.62 262.59 267.43 262.81 268.23 C263.03 269.04 263.25 269.85 263.47 270.65 C263.68 271.46 263.89 272.27 264.10 273.07 C264.31 273.87 264.52 274.66 264.73 275.45 C264.93 276.25 265.13 277.04 265.33 277.84 C265.53 278.63 265.72 279.43 265.92 280.22 C266.11 281.02 266.30 281.82 266.49 282.62 C266.68 283.41 266.87 284.21 267.06 285.01 C267.25 285.81 267.44 286.61 267.63 287.41 C267.82 288.20 268.01 289.00 268.20 289.80 C268.39 290.60 268.58 291.39 268.78 292.19 C268.98 292.98 269.18 293.78 269.38 294.57 C269.59 295.37 269.79 296.16 270.00 296.96 C270.22 297.75 270.43 298.54 270.65 299.33 C270.86 300.12 271.08 300.91 271.31 301.70 C271.53 302.49 271.76 303.28 271.99 304.07 C272.23 304.86 272.46 305.64 272.70 306.43 C272.94 307.21 273.19 308.00 273.44 308.78 C273.69 309.56 273.94 310.34 274.20 311.12 C274.46 311.91 274.72 312.70 274.99 313.48 C275.26 314.27 275.54 315.07 275.82 315.85 C276.10 316.64 276.39 317.43 276.68 318.21 C276.97 319.00 277.27 319.78 277.58 320.56 C277.88 321.34 278.20 322.11 278.52 322.89 C278.84 323.66 279.16 324.43 279.50 325.20 C279.83 325.97 280.18 326.73 280.53 327.49 C280.88 328.25 281.23 329.01 281.60 329.76 C281.96 330.52 282.34 331.27 282.72 332.01 C283.11 332.76 283.50 333.50 283.90 334.23 C284.31 334.97 284.72 335.70 285.15 336.41 C285.58 337.13 286.02 337.85 286.47 338.55 C286.93 339.25 287.39 339.95 287.88 340.63 C288.36 341.31 288.86 341.98 289.38 342.64 C289.90 343.29 290.43 343.93 290.98 344.56 C291.54 345.18 292.11 345.78 292.70 346.36 C293.30 346.94 293.92 347.50 294.55 348.03 C295.19 348.57 295.85 349.08 296.52 349.57 C297.19 350.06 297.88 350.53 298.58 350.98 C299.28 351.43 300.00 351.87 300.72 352.29 C301.44 352.72 302.17 353.12 302.91 353.53 C303.64 353.93 304.39 354.31 305.13 354.70 C305.88 355.08 306.63 355.46 307.38 355.84 C308.13 356.21 308.88 356.59 309.64 356.95 C310.39 357.32 311.15 357.69 311.91 358.04 C312.67 358.40 313.43 358.75 314.19 359.10 C314.95 359.44 315.72 359.78 316.49 360.10 C317.26 360.42 318.04 360.74 318.82 361.03 C319.60 361.33 320.38 361.61 321.17 361.87 C321.96 362.13 322.76 362.37 323.56 362.59 C324.37 362.81 325.18 363.01 325.99 363.18 C326.80 363.36 327.62 363.52 328.44 363.66 C329.26 363.80 330.09 363.92 330.91 364.03 C331.74 364.14 332.57 364.23 333.40 364.31 C334.23 364.39 335.07 364.46 335.90 364.52 C336.73 364.58 337.57 364.63 338.40 364.67 C339.24 364.71 340.07 364.75 340.91 364.78 C341.75 364.81 342.58 364.84 343.42 364.86 C344.26 364.88 345.10 364.89 345.93 364.91 C346.77 364.92 347.61 364.93 348.45 364.94 C349.28 364.95 350.12 364.96 350.96 364.97 C351.80 364.98 352.63 364.98 353.47 364.99 C354.31 365.00 355.15 365.00 355.98 365.01 C356.82 365.01 357.66 365.02 358.50 365.02 C359.33 365.02 360.17 365.03 361.01 365.03 C361.84 365.03 362.68 365.04 363.52 365.04 C364.36 365.04 365.19 365.04 366.03 365.04 C366.87 365.04 367.70 365.04 368.54 365.04 C369.38 365.04 370.21 365.04 371.05 365.04 C371.89 365.04 372.72 365.04 373.56 365.04 C374.40 365.04 375.23 365.04 376.07 365.03 C376.91 365.03 377.74 365.03 378.58 365.03 C379.41 365.02 380.25 365.02 381.09 365.02 C381.92 365.01 382.76 365.01 383.60 365.01 C384.43 365.00 385.27 365.00 386.10 364.99 C386.94 364.99 387.78 364.99 388.61 364.98 C389.45 364.98 390.28 364.97 391.12 364.97 C391.95 364.96 392.79 364.96 393.63 364.95 C394.46 364.95 395.30 364.94 396.13 364.94 C396.97 364.93 397.80 364.93 398.64 364.92 C399.48 364.92 400.31 364.91 401.15 364.91 C401.98 364.90 402.82 364.90 403.65 364.89 C404.49 364.89 405.32 364.88 406.16 364.88 C407.00 364.87 407.83 364.87 408.67 364.86 C409.50 364.86 410.34 364.85 411.17 364.85 C412.01 364.84 412.84 364.84 413.68 364.83 C414.51 364.83 415.35 364.83 416.18 364.82 C417.02 364.82 417.85 364.81 418.69 364.81 C419.52 364.81 420.36 364.81 421.19 364.80 C422.03 364.80 422.86 364.80 423.70 364.79 C424.53 364.79 425.37 364.79 426.20 364.79 C427.04 364.79 427.87 364.78 428.71 364.78 C429.54 364.78 430.38 364.78 431.21 364.78 C432.05 364.78 432.88 364.78 433.72 364.78 C434.55 364.78 435.39 364.78 436.22 364.78 C437.06 364.78 437.89 364.78 438.73 364.78 C439.56 364.78 440.40 364.78 441.23 364.78 C442.07 364.78 442.90 364.78 443.74 364.78 C444.57 364.78 445.41 364.78 446.24 364.78 C447.08 364.79 447.91 364.79 448.75 364.79 C449.59 364.79 450.42 364.79 451.26 364.79 C452.09 364.80 452.93 364.80 453.76 364.80 C454.60 364.80 455.44 364.81 456.27 364.81 C457.11 364.81 457.95 364.81 458.78 364.82 C459.62 364.82 460.46 364.82 461.29 364.83 C462.13 364.83 462.97 364.83 463.80 364.83 C464.64 364.84 465.48 364.84 466.32 364.84 C467.15 364.85 467.99 364.85 468.83 364.86 C469.67 364.86 470.50 364.86 471.34 364.87 C472.18 364.87 473.02 364.87 473.86 364.88 C474.69 364.88 475.53 364.89 476.37 364.89 C477.21 364.89 478.05 364.90 478.89 364.90 C479.73 364.91 480.57 364.91 481.41 364.91 C482.25 364.92 483.09 364.92 483.93 364.91 C484.76 364.91 485.60 364.90 486.44 364.88 C487.28 364.86 488.11 364.83 488.95 364.79 C489.78 364.75 490.61 364.70 491.44 364.63 C492.27 364.56 493.10 364.48 493.92 364.37 C494.75 364.27 495.57 364.14 496.39 363.99 C497.21 363.85 498.02 363.68 498.83 363.50 C499.65 363.31 500.45 363.11 501.26 362.89 C502.06 362.67 502.86 362.43 503.66 362.18 C504.46 361.94 505.25 361.67 506.04 361.40 C506.84 361.13 507.62 360.85 508.41 360.56 C509.20 360.27 509.98 359.97 510.76 359.66 C511.53 359.35 512.31 359.04 513.08 358.71 C513.85 358.38 514.61 358.04 515.37 357.69 C516.13 357.34 516.88 356.98 517.63 356.60 C518.38 356.23 519.12 355.84 519.86 355.45 C520.59 355.05 521.32 354.65 522.05 354.23 C522.77 353.81 523.49 353.38 524.20 352.95 C524.91 352.51 525.61 352.06 526.31 351.60 C527.01 351.14 527.70 350.67 528.39 350.20 C529.08 349.72 529.75 349.23 530.43 348.73 C531.10 348.24 531.77 347.74 532.43 347.22 C533.10 346.71 533.75 346.20 534.41 345.67 C535.06 345.15 535.71 344.62 536.35 344.08 C537.00 343.55 537.64 343.01 538.28 342.46 C538.91 341.92 539.55 341.37 540.17 340.81 C540.80 340.26 541.43 339.70 542.04 339.14 C542.66 338.57 543.28 338.00 543.89 337.43 C544.49 336.85 545.10 336.27 545.69 335.68 C546.29 335.10 546.88 334.51 547.46 333.91 C548.04 333.31 548.62 332.70 549.19 332.09 C549.75 331.47 550.31 330.85 550.86 330.22 C551.40 329.59 551.94 328.95 552.46 328.30 C552.99 327.66 553.50 327.00 554.00 326.33 C554.50 325.66 554.99 324.99 555.46 324.30 C555.94 323.62 556.41 322.93 556.87 322.23 C557.33 321.53 557.78 320.83 558.23 320.12 C558.67 319.41 559.11 318.70 559.54 317.98 C559.97 317.26 560.40 316.54 560.81 315.82 C561.23 315.09 561.65 314.36 562.06 313.63 C562.46 312.91 562.87 312.17 563.26 311.44 C563.66 310.72 564.05 310.00 564.43 309.27 C564.82 308.54 565.20 307.81 565.57 307.07 C565.95 306.34 566.31 305.60 566.67 304.86 C567.04 304.13 567.39 303.38 567.74 302.64 C568.09 301.90 568.44 301.15 568.77 300.40 C569.11 299.65 569.44 298.90 569.77 298.15 C570.10 297.39 570.41 296.63 570.73 295.87 C571.04 295.12 571.35 294.35 571.65 293.59 C571.95 292.83 572.24 292.06 572.53 291.29 C572.81 290.52 573.09 289.75 573.37 288.98 C573.65 288.20 573.92 287.43 574.18 286.65 C574.45 285.88 574.72 285.10 574.99 284.32 C575.25 283.55 575.51 282.77 575.78 281.99 C576.05 281.22 576.31 280.44 576.58 279.66 C576.85 278.89 577.12 278.11 577.39 277.34 C577.67 276.56 577.95 275.79 578.23 275.02 C578.51 274.25 578.80 273.49 579.09 272.71 C579.38 271.94 579.67 271.15 579.97 270.37 C580.27 269.59 580.58 268.81 580.89 268.03 C581.20 267.26 581.51 266.48 581.83 265.71 C582.15 264.94 582.47 264.17 582.79 263.40 C583.12 262.63 583.45 261.86 583.78 261.09 C584.11 260.33 584.45 259.56 584.79 258.80 C585.13 258.03 585.47 257.27 585.82 256.51 C586.16 255.75 586.51 254.98 586.86 254.22 C587.21 253.46 587.56 252.70 587.91 251.94 C588.26 251.19 588.61 250.43 588.97 249.67 C589.33 248.91 589.68 248.15 590.04 247.40 C590.40 246.64 590.77 245.89 591.13 245.13 C591.49 244.38 591.86 243.62 592.23 242.87 C592.60 242.12 592.97 241.37 593.34 240.62 C593.72 239.87 594.10 239.12 594.48 238.38 C594.87 237.64 595.26 236.89 595.65 236.16 C596.05 235.42 596.45 234.69 596.86 233.96 C597.27 233.23 597.69 232.50 598.12 231.78 C598.55 231.06 598.99 230.35 599.43 229.64 C599.88 228.94 600.34 228.24 600.81 227.54 C601.28 226.85 601.76 226.17 602.25 225.50 C602.75 224.82 603.25 224.16 603.77 223.51 C604.29 222.86 604.83 222.22 605.37 221.59 C605.92 220.97 606.49 220.35 607.06 219.75 C607.64 219.15 608.23 218.56 608.83 217.99 C609.43 217.41 610.05 216.85 610.68 216.30 C611.31 215.76 611.95 215.22 612.60 214.71 C613.25 214.19 613.92 213.68 614.59 213.19 C615.26 212.69 615.95 212.21 616.63 211.74 C617.32 211.27 618.02 210.81 618.73 210.35 C619.43 209.90 620.14 209.46 620.85 209.01 C621.57 208.57 622.64 207.92 623.00 207.70" stroke="#0e6b3a"/>
<path d="M128.20 366.00 C128.46 365.67 129.26 364.70 129.78 364.05 C130.30 363.39 130.82 362.73 131.32 362.06 C131.82 361.39 132.30 360.71 132.76 360.02 C133.21 359.32 133.64 358.61 134.05 357.89 C134.45 357.17 134.83 356.43 135.18 355.68 C135.53 354.93 135.86 354.16 136.16 353.38 C136.45 352.61 136.72 351.82 136.98 351.03 C137.23 350.23 137.47 349.43 137.69 348.62 C137.91 347.81 138.11 347.00 138.30 346.19 C138.49 345.37 138.67 344.55 138.85 343.73 C139.02 342.91 139.18 342.09 139.34 341.27 C139.49 340.44 139.64 339.62 139.79 338.79 C139.93 337.97 140.07 337.14 140.21 336.31 C140.35 335.49 140.48 334.66 140.62 333.83 C140.75 333.01 140.88 332.18 141.01 331.35 C141.14 330.52 141.26 329.70 141.39 328.87 C141.51 328.04 141.63 327.21 141.76 326.38 C141.88 325.56 142.00 324.73 142.11 323.90 C142.23 323.07 142.35 322.24 142.47 321.41 C142.58 320.58 142.70 319.76 142.81 318.93 C142.93 318.10 143.04 317.27 143.15 316.44 C143.26 315.61 143.38 314.78 143.49 313.95 C143.60 313.13 143.71 312.30 143.83 311.48 C143.94 310.66 144.05 309.85 144.16 309.04 C144.27 308.23 144.39 307.42 144.50 306.60 C144.61 305.79 144.72 304.98 144.83 304.17 C144.95 303.36 145.06 302.55 145.17 301.73 C145.29 300.92 145.40 300.11 145.52 299.30 C145.63 298.49 145.75 297.68 145.86 296.86 C145.98 296.05 146.10 295.24 146.22 294.43 C146.33 293.62 146.45 292.81 146.57 292.00 C146.69 291.19 146.82 290.38 146.94 289.57 C147.06 288.76 147.19 287.95 147.31 287.13 C147.44 286.32 147.56 285.51 147.69 284.71 C147.82 283.90 147.95 283.09 148.08 282.28 C148.21 281.47 148.34 280.66 148.47 279.85 C148.60 279.04 148.73 278.23 148.86 277.42 C148.99 276.61 149.13 275.80 149.26 274.99 C149.39 274.18 149.52 273.38 149.66 272.56 C149.79 271.74 149.92 270.91 150.06 270.08 C150.19 269.26 150.32 268.43 150.46 267.61 C150.59 266.78 150.72 265.96 150.86 265.13 C150.99 264.30 151.12 263.48 151.26 262.65 C151.39 261.83 151.52 261.00 151.65 260.18 C151.78 259.35 151.92 258.52 152.05 257.70 C152.18 256.87 152.31 256.05 152.44 255.22 C152.57 254.40 152.70 253.57 152.83 252.74 C152.96 251.92 153.09 251.09 153.22 250.27 C153.36 249.44 153.49 248.61 153.62 247.79 C153.75 246.96 153.88 246.14 154.01 245.31 C154.14 244.48 154.27 243.66 154.40 242.83 C154.53 242.01 154.66 241.18 154.79 240.35 C154.92 239.53 155.05 238.70 155.18 237.88 C155.31 237.05 155.44 236.22 155.57 235.40 C155.70 234.57 155.83 233.75 155.96 232.92 C156.10 232.10 156.23 231.27 156.36 230.44 C156.49 229.62 156.62 228.79 156.75 227.97 C156.88 227.14 157.01 226.31 157.14 225.49 C157.27 224.66 157.40 223.84 157.53 223.01 C157.66 222.18 157.79 221.36 157.92 220.53 C158.05 219.70 158.17 218.88 158.30 218.05 C158.43 217.23 158.55 216.40 158.68 215.57 C158.81 214.74 158.93 213.92 159.05 213.09 C159.18 212.26 159.30 211.44 159.42 210.61 C159.54 209.78 159.67 208.95 159.79 208.13 C159.91 207.30 160.03 206.47 160.15 205.64 C160.27 204.81 160.39 203.99 160.51 203.16 C160.63 202.33 160.75 201.50 160.88 200.67 C161.00 199.85 161.13 199.02 161.25 198.19 C161.38 197.36 161.51 196.54 161.64 195.71 C161.78 194.88 161.91 194.06 162.05 193.23 C162.19 192.40 162.33 191.58 162.47 190.75 C162.62 189.93 162.77 189.11 162.93 188.28 C163.09 187.46 163.25 186.64 163.42 185.82 C163.60 185.00 163.77 184.18 163.96 183.37 C164.15 182.55 164.34 181.73 164.56 180.92 C164.77 180.12 164.99 179.31 165.24 178.51 C165.49 177.72 165.75 176.92 166.05 176.14 C166.34 175.36 166.66 174.59 167.01 173.83 C167.35 173.07 167.72 172.33 168.12 171.59 C168.52 170.85 168.94 170.13 169.38 169.41 C169.82 168.70 170.28 167.99 170.76 167.31 C171.24 166.62 171.74 165.94 172.26 165.28 C172.78 164.63 173.33 163.98 173.89 163.37 C174.46 162.75 175.05 162.15 175.66 161.58 C176.27 161.02 176.91 160.47 177.57 159.97 C178.23 159.46 178.92 158.98 179.62 158.54 C180.33 158.10 181.06 157.70 181.81 157.34 C182.55 156.97 183.32 156.65 184.10 156.36 C184.88 156.07 185.68 155.82 186.48 155.61 C187.29 155.39 188.11 155.22 188.93 155.07 C189.75 154.92 190.58 154.82 191.41 154.72 C192.24 154.63 193.08 154.56 193.92 154.50 C194.76 154.44 195.60 154.41 196.44 154.37 C197.28 154.33 198.12 154.30 198.96 154.28 C199.80 154.25 200.64 154.23 201.48 154.22 C202.31 154.21 203.15 154.20 203.99 154.19 C204.83 154.19 205.67 154.19 206.51 154.19 C207.35 154.20 208.19 154.21 209.02 154.22 C209.86 154.23 210.70 154.24 211.54 154.26 C212.38 154.28 213.22 154.29 214.05 154.32 C214.89 154.34 215.73 154.36 216.57 154.39 C217.41 154.42 218.25 154.45 219.08 154.49 C219.92 154.52 220.76 154.57 221.59 154.62 C222.43 154.68 223.27 154.74 224.10 154.81 C224.93 154.89 225.77 154.97 226.60 155.07 C227.43 155.17 228.26 155.27 229.09 155.41 C229.91 155.55 230.73 155.70 231.53 155.90 C232.34 156.10 233.14 156.33 233.92 156.60 C234.70 156.88 235.46 157.20 236.21 157.54 C236.97 157.89 237.70 158.28 238.43 158.68 C239.15 159.09 239.87 159.53 240.57 159.98 C241.27 160.43 241.96 160.90 242.65 161.38 C243.34 161.86 244.01 162.36 244.68 162.86 C245.36 163.37 246.02 163.88 246.68 164.39 C247.35 164.91 248.00 165.43 248.66 165.96 C249.31 166.48 249.96 167.02 250.60 167.55 C251.25 168.09 251.89 168.63 252.52 169.18 C253.16 169.72 253.79 170.27 254.42 170.82 C255.05 171.38 255.68 171.93 256.30 172.50 C256.92 173.06 257.54 173.62 258.16 174.19 C258.77 174.76 259.38 175.33 259.99 175.90 C260.60 176.48 261.21 177.05 261.81 177.64 C262.41 178.22 263.01 178.81 263.60 179.40 C264.19 179.99 264.78 180.58 265.37 181.18 C265.95 181.78 266.53 182.38 267.10 182.99 C267.68 183.60 268.25 184.21 268.81 184.83 C269.38 185.45 269.93 186.07 270.49 186.70 C271.04 187.32 271.59 187.96 272.13 188.59 C272.67 189.23 273.20 189.87 273.73 190.52 C274.26 191.17 274.78 191.82 275.29 192.48 C275.81 193.14 276.31 193.80 276.81 194.47 C277.31 195.14 277.81 195.82 278.29 196.50 C278.77 197.18 279.25 197.86 279.72 198.55 C280.19 199.24 280.65 199.94 281.10 200.64 C281.56 201.34 282.00 202.05 282.44 202.76 C282.88 203.47 283.31 204.18 283.74 204.90 C284.16 205.62 284.58 206.35 284.99 207.07 C285.40 207.80 285.81 208.53 286.22 209.26 C286.62 209.99 287.02 210.73 287.42 211.46 C287.82 212.20 288.22 212.93 288.62 213.67 C289.02 214.40 289.43 215.13 289.83 215.87 C290.23 216.60 290.63 217.34 291.03 218.07 C291.44 218.80 291.84 219.53 292.24 220.27 C292.65 221.00 293.05 221.73 293.46 222.46 C293.87 223.19 294.28 223.92 294.69 224.65 C295.10 225.38 295.51 226.10 295.93 226.83 C296.34 227.56 296.76 228.28 297.18 229.00 C297.60 229.73 298.02 230.45 298.44 231.17 C298.87 231.89 299.29 232.61 299.72 233.33 C300.14 234.05 300.57 234.77 301.00 235.49 C301.43 236.21 301.86 236.92 302.29 237.64 C302.72 238.36 303.15 239.08 303.58 239.79 C304.01 240.51 304.44 241.22 304.87 241.94 C305.31 242.66 305.74 243.37 306.17 244.09 C306.60 244.80 307.04 245.52 307.47 246.23 C307.90 246.95 308.33 247.67 308.76 248.38 C309.19 249.10 309.62 249.82 310.05 250.54 C310.48 251.25 310.91 251.97 311.34 252.69 C311.76 253.41 312.19 254.13 312.61 254.85 C313.03 255.57 313.46 256.30 313.88 257.02 C314.30 257.74 314.72 258.47 315.13 259.19 C315.55 259.92 315.97 260.64 316.38 261.37 C316.80 262.09 317.21 262.82 317.62 263.55 C318.03 264.28 318.44 265.01 318.85 265.74 C319.26 266.47 319.66 267.20 320.07 267.93 C320.47 268.67 320.88 269.40 321.29 270.13 C321.70 270.85 322.11 271.59 322.52 272.31 C322.94 273.02 323.36 273.73 323.79 274.43 C324.22 275.14 324.66 275.83 325.10 276.52 C325.55 277.21 326.01 277.90 326.47 278.58 C326.94 279.25 327.41 279.93 327.89 280.59 C328.38 281.26 328.87 281.92 329.36 282.58 C329.86 283.24 330.37 283.89 330.88 284.53 C331.39 285.18 331.91 285.82 332.44 286.46 C332.96 287.10 333.49 287.73 334.03 288.36 C334.56 288.99 335.10 289.61 335.65 290.23 C336.19 290.86 336.74 291.48 337.29 292.09 C337.84 292.71 338.40 293.32 338.96 293.93 C339.52 294.54 340.08 295.15 340.64 295.76 C341.20 296.36 341.77 296.97 342.33 297.57 C342.90 298.18 343.47 298.78 344.04 299.38 C344.61 299.98 345.18 300.58 345.75 301.18 C346.32 301.78 346.89 302.38 347.47 302.97 C348.04 303.57 348.62 304.17 349.20 304.76 C349.77 305.35 350.35 305.95 350.93 306.54 C351.51 307.13 352.09 307.72 352.67 308.31 C353.25 308.90 353.83 309.49 354.41 310.08 C355.00 310.67 355.58 311.25 356.17 311.84 C356.75 312.43 357.34 313.03 357.92 313.63 C358.51 314.22 359.10 314.82 359.69 315.41 C360.28 316.00 360.87 316.60 361.47 317.19 C362.06 317.78 362.65 318.37 363.25 318.95 C363.85 319.54 364.44 320.13 365.04 320.71 C365.64 321.30 366.24 321.88 366.84 322.46 C367.44 323.04 368.05 323.62 368.65 324.20 C369.26 324.77 369.87 325.34 370.48 325.91 C371.10 326.48 371.72 327.04 372.34 327.59 C372.97 328.15 373.60 328.70 374.23 329.24 C374.87 329.77 375.51 330.31 376.16 330.83 C376.82 331.35 377.47 331.87 378.14 332.37 C378.80 332.88 379.47 333.38 380.15 333.87 C380.82 334.36 381.51 334.85 382.19 335.32 C382.88 335.80 383.57 336.28 384.26 336.74 C384.96 337.21 385.66 337.67 386.36 338.12 C387.06 338.58 387.77 339.02 388.48 339.46 C389.19 339.90 389.91 340.34 390.63 340.76 C391.35 341.19 392.08 341.61 392.81 342.02 C393.53 342.43 394.27 342.83 395.01 343.22 C395.75 343.62 396.49 344.00 397.23 344.38 C397.98 344.75 398.73 345.12 399.49 345.48 C400.24 345.84 401.01 346.19 401.77 346.52 C402.53 346.86 403.30 347.19 404.08 347.51 C404.85 347.83 405.63 348.14 406.41 348.43 C407.19 348.73 407.97 349.02 408.76 349.30 C409.55 349.58 410.34 349.84 411.14 350.10 C411.93 350.36 412.73 350.61 413.53 350.85 C414.33 351.09 415.14 351.31 415.95 351.53 C416.75 351.75 417.56 351.96 418.37 352.16 C419.19 352.36 420.00 352.55 420.82 352.73 C421.63 352.91 422.45 353.08 423.27 353.24 C424.09 353.41 424.91 353.56 425.74 353.71 C426.56 353.85 427.39 353.99 428.21 354.11 C429.04 354.24 429.86 354.35 430.69 354.46 C431.52 354.56 432.35 354.66 433.18 354.75 C434.01 354.83 434.84 354.91 435.68 354.98 C436.51 355.05 437.34 355.11 438.18 355.16 C439.01 355.21 439.84 355.25 440.68 355.29 C441.51 355.32 442.35 355.35 443.19 355.37 C444.02 355.39 444.86 355.41 445.70 355.42 C446.53 355.43 447.37 355.43 448.21 355.43 C449.05 355.42 449.89 355.42 450.72 355.41 C451.56 355.39 452.40 355.38 453.24 355.36 C454.08 355.34 454.91 355.32 455.75 355.29 C456.59 355.26 457.43 355.23 458.27 355.20 C459.10 355.17 459.94 355.14 460.78 355.11 C461.61 355.07 462.45 355.04 463.29 355.00 C464.12 354.97 464.96 354.93 465.80 354.90 C466.63 354.87 467.47 354.84 468.31 354.81 C469.14 354.78 469.98 354.75 470.82 354.72 C471.65 354.70 472.49 354.68 473.32 354.66 C474.16 354.64 474.99 354.63 475.83 354.62 C476.67 354.61 477.50 354.61 478.34 354.61 C479.17 354.61 480.01 354.62 480.84 354.63 C481.68 354.65 482.51 354.67 483.35 354.70 C484.18 354.73 485.01 354.77 485.85 354.81 C486.68 354.86 487.51 354.91 488.35 354.97 C489.18 355.04 490.01 355.11 490.84 355.19 C491.67 355.27 492.50 355.36 493.33 355.46 C494.16 355.55 494.99 355.66 495.82 355.77 C496.65 355.87 497.48 355.99 498.31 356.10 C499.14 356.22 499.97 356.34 500.80 356.46 C501.63 356.58 502.46 356.71 503.29 356.83 C504.12 356.95 504.95 357.07 505.78 357.19 C506.61 357.30 507.45 357.42 508.28 357.53 C509.11 357.63 509.94 357.73 510.78 357.82 C511.61 357.90 512.45 357.98 513.28 358.04 C514.12 358.10 514.95 358.14 515.79 358.17 C516.62 358.19 517.46 358.20 518.30 358.18 C519.13 358.16 519.97 358.12 520.80 358.05 C521.63 357.99 522.46 357.90 523.28 357.78 C524.11 357.65 524.93 357.51 525.74 357.33 C526.55 357.15 527.36 356.94 528.16 356.70 C528.95 356.46 529.74 356.19 530.52 355.89 C531.29 355.59 532.06 355.25 532.81 354.89 C533.56 354.53 534.30 354.14 535.03 353.73 C535.75 353.32 536.47 352.88 537.17 352.43 C537.88 351.98 538.57 351.51 539.25 351.02 C539.93 350.53 540.60 350.03 541.26 349.52 C541.92 349.00 542.57 348.47 543.21 347.93 C543.85 347.39 544.47 346.84 545.09 346.28 C545.71 345.71 546.32 345.14 546.92 344.56 C547.52 343.97 548.12 343.38 548.70 342.78 C549.29 342.18 549.87 341.58 550.44 340.97 C551.01 340.36 551.58 339.74 552.14 339.12 C552.71 338.50 553.27 337.88 553.83 337.25 C554.39 336.63 554.94 336.00 555.50 335.37 C556.05 334.75 556.60 334.12 557.16 333.49 C557.71 332.86 558.26 332.23 558.81 331.60 C559.36 330.97 559.91 330.34 560.46 329.71 C561.01 329.08 561.56 328.45 562.12 327.82 C562.67 327.19 563.22 326.56 563.77 325.94 C564.32 325.31 564.88 324.68 565.43 324.05 C565.98 323.42 566.53 322.80 567.08 322.17 C567.63 321.54 568.18 320.91 568.73 320.28 C569.29 319.65 569.84 319.02 570.39 318.39 C570.94 317.76 571.49 317.13 572.04 316.51 C572.59 315.88 573.14 315.25 573.70 314.62 C574.25 314.00 574.80 313.36 575.36 312.74 C575.91 312.12 576.47 311.50 577.03 310.88 C577.58 310.27 578.14 309.66 578.70 309.04 C579.25 308.43 579.81 307.82 580.37 307.21 C580.93 306.59 581.49 305.98 582.05 305.37 C582.62 304.77 583.19 304.16 583.76 303.56 C584.34 302.97 584.92 302.37 585.52 301.79 C586.11 301.21 586.71 300.64 587.33 300.08 C587.94 299.52 588.57 298.97 589.21 298.44 C589.86 297.91 590.51 297.40 591.19 296.91 C591.86 296.42 592.55 295.95 593.26 295.52 C593.97 295.09 594.70 294.68 595.44 294.31 C596.19 293.94 596.95 293.59 597.73 293.30 C598.51 293.01 599.31 292.75 600.11 292.54 C600.92 292.33 601.74 292.16 602.56 292.05 C603.39 291.94 604.22 291.88 605.05 291.88 C605.88 291.88 606.71 291.93 607.53 292.04 C608.36 292.15 609.18 292.32 609.98 292.53 C610.79 292.73 611.59 292.99 612.37 293.28 C613.15 293.57 613.92 293.90 614.67 294.26 C615.42 294.62 616.16 295.01 616.87 295.43 C617.59 295.85 618.29 296.30 618.98 296.77 C619.67 297.23 620.34 297.73 621.01 298.23 C621.68 298.73 622.67 299.50 623.00 299.75" stroke="#de0d0d"/>
<path d="M111.60 364.80 C111.99 364.63 113.18 364.16 113.93 363.79 C114.68 363.41 115.43 363.04 116.11 362.57 C116.79 362.11 117.43 361.58 118.01 361.00 C118.59 360.42 119.11 359.78 119.57 359.09 C120.02 358.41 120.41 357.67 120.75 356.91 C121.10 356.16 121.37 355.37 121.63 354.57 C121.88 353.77 122.07 352.95 122.27 352.14 C122.47 351.32 122.64 350.50 122.81 349.67 C122.98 348.85 123.15 348.03 123.31 347.20 C123.47 346.38 123.63 345.56 123.78 344.73 C123.93 343.91 124.08 343.08 124.24 342.26 C124.39 341.44 124.54 340.61 124.69 339.79 C124.84 338.97 124.99 338.14 125.15 337.32 C125.30 336.50 125.45 335.68 125.60 334.85 C125.76 334.03 125.91 333.21 126.06 332.39 C126.22 331.57 126.37 330.75 126.52 329.93 C126.68 329.10 126.83 328.28 126.98 327.46 C127.13 326.64 127.29 325.82 127.44 325.00 C127.59 324.18 127.74 323.35 127.89 322.53 C128.04 321.71 128.19 320.89 128.34 320.07 C128.49 319.25 128.64 318.42 128.79 317.60 C128.94 316.78 129.08 315.96 129.23 315.14 C129.38 314.31 129.52 313.48 129.67 312.67 C129.81 311.85 129.96 311.04 130.10 310.24 C130.24 309.43 130.39 308.62 130.53 307.81 C130.67 307.01 130.81 306.20 130.95 305.39 C131.09 304.59 131.23 303.78 131.37 302.97 C131.51 302.16 131.65 301.36 131.79 300.55 C131.93 299.74 132.07 298.93 132.21 298.13 C132.35 297.32 132.48 296.51 132.62 295.70 C132.76 294.90 132.90 294.09 133.03 293.28 C133.17 292.47 133.31 291.66 133.44 290.86 C133.58 290.05 133.72 289.24 133.85 288.43 C133.99 287.62 134.12 286.82 134.26 286.01 C134.40 285.20 134.53 284.39 134.67 283.58 C134.80 282.78 134.94 281.97 135.07 281.16 C135.21 280.35 135.35 279.54 135.48 278.74 C135.62 277.93 135.76 277.12 135.89 276.31 C136.03 275.50 136.17 274.70 136.30 273.89 C136.44 273.08 136.58 272.26 136.72 271.44 C136.86 270.62 136.99 269.79 137.13 268.97 C137.27 268.14 137.41 267.32 137.55 266.49 C137.69 265.67 137.83 264.85 137.98 264.02 C138.12 263.20 138.26 262.38 138.40 261.55 C138.55 260.73 138.69 259.91 138.83 259.08 C138.98 258.26 139.12 257.44 139.27 256.61 C139.42 255.79 139.56 254.97 139.71 254.15 C139.86 253.32 140.01 252.50 140.15 251.68 C140.30 250.86 140.45 250.04 140.60 249.21 C140.75 248.39 140.90 247.57 141.05 246.75 C141.21 245.93 141.36 245.10 141.51 244.28 C141.66 243.46 141.82 242.64 141.97 241.82 C142.12 241.00 142.28 240.18 142.43 239.35 C142.59 238.53 142.75 237.71 142.90 236.89 C143.06 236.07 143.22 235.25 143.37 234.43 C143.53 233.61 143.69 232.79 143.85 231.97 C144.01 231.15 144.17 230.33 144.33 229.51 C144.49 228.69 144.65 227.87 144.81 227.05 C144.97 226.23 145.13 225.41 145.29 224.59 C145.45 223.77 145.61 222.95 145.77 222.13 C145.93 221.31 146.09 220.49 146.25 219.67 C146.41 218.85 146.57 218.03 146.73 217.21 C146.90 216.39 147.06 215.57 147.22 214.75 C147.38 213.93 147.54 213.11 147.70 212.29 C147.86 211.47 148.02 210.65 148.17 209.82 C148.33 209.00 148.49 208.18 148.65 207.36 C148.81 206.54 148.97 205.72 149.12 204.90 C149.28 204.08 149.44 203.26 149.59 202.44 C149.75 201.62 149.91 200.79 150.06 199.97 C150.22 199.15 150.37 198.33 150.53 197.51 C150.68 196.69 150.84 195.86 150.99 195.04 C151.15 194.22 151.30 193.40 151.45 192.57 C151.61 191.75 151.76 190.93 151.91 190.11 C152.06 189.28 152.22 188.46 152.37 187.64 C152.53 186.82 152.68 186.00 152.84 185.17 C153.01 184.35 153.17 183.53 153.34 182.72 C153.51 181.90 153.68 181.08 153.87 180.26 C154.05 179.45 154.24 178.64 154.44 177.83 C154.63 177.01 154.84 176.21 155.06 175.40 C155.27 174.59 155.50 173.79 155.74 172.99 C155.97 172.19 156.22 171.39 156.48 170.60 C156.74 169.80 157.01 169.01 157.29 168.23 C157.57 167.44 157.86 166.66 158.16 165.88 C158.46 165.10 158.78 164.32 159.10 163.55 C159.42 162.78 159.76 162.01 160.11 161.25 C160.45 160.49 160.81 159.73 161.18 158.98 C161.54 158.22 161.92 157.47 162.31 156.73 C162.69 155.99 163.09 155.25 163.50 154.52 C163.91 153.79 164.33 153.06 164.77 152.35 C165.21 151.63 165.67 150.93 166.14 150.24 C166.61 149.55 167.10 148.87 167.61 148.20 C168.12 147.54 168.65 146.89 169.21 146.27 C169.76 145.65 170.33 145.04 170.93 144.46 C171.53 143.88 172.15 143.33 172.79 142.81 C173.43 142.29 174.10 141.79 174.79 141.33 C175.47 140.86 176.18 140.43 176.90 140.02 C177.63 139.61 178.37 139.24 179.12 138.88 C179.87 138.52 180.64 138.20 181.41 137.89 C182.19 137.58 182.98 137.29 183.77 137.01 C184.56 136.74 185.36 136.48 186.17 136.23 C186.97 135.98 187.79 135.75 188.60 135.52 C189.41 135.28 190.23 135.06 191.04 134.84 C191.85 134.62 192.67 134.40 193.49 134.19 C194.30 133.98 195.12 133.78 195.94 133.59 C196.76 133.40 197.58 133.22 198.40 133.05 C199.22 132.88 200.04 132.73 200.87 132.59 C201.70 132.44 202.52 132.32 203.35 132.21 C204.18 132.10 205.02 132.01 205.85 131.94 C206.68 131.88 207.52 131.83 208.35 131.82 C209.19 131.80 210.02 131.81 210.86 131.86 C211.69 131.91 212.52 131.99 213.35 132.11 C214.17 132.22 214.99 132.38 215.80 132.57 C216.61 132.77 217.41 133.00 218.20 133.27 C218.99 133.54 219.77 133.85 220.53 134.19 C221.28 134.54 222.03 134.92 222.75 135.33 C223.48 135.75 224.18 136.19 224.86 136.67 C225.55 137.15 226.21 137.66 226.84 138.20 C227.48 138.74 228.09 139.31 228.68 139.90 C229.27 140.49 229.83 141.11 230.38 141.75 C230.92 142.38 231.44 143.04 231.94 143.70 C232.44 144.37 232.92 145.06 233.38 145.76 C233.84 146.45 234.28 147.17 234.71 147.88 C235.14 148.60 235.55 149.33 235.95 150.07 C236.36 150.80 236.74 151.54 237.13 152.29 C237.51 153.03 237.88 153.79 238.25 154.54 C238.62 155.29 238.98 156.04 239.34 156.80 C239.70 157.56 240.06 158.31 240.42 159.07 C240.77 159.83 241.12 160.59 241.47 161.35 C241.81 162.11 242.16 162.88 242.50 163.64 C242.83 164.40 243.17 165.17 243.50 165.94 C243.83 166.71 244.16 167.47 244.49 168.24 C244.81 169.01 245.14 169.78 245.46 170.56 C245.78 171.33 246.10 172.10 246.42 172.87 C246.74 173.64 247.05 174.42 247.37 175.19 C247.69 175.96 248.00 176.74 248.32 177.51 C248.63 178.28 248.95 179.06 249.26 179.83 C249.57 180.61 249.88 181.39 250.19 182.16 C250.50 182.94 250.80 183.72 251.11 184.49 C251.41 185.27 251.72 186.05 252.02 186.83 C252.32 187.61 252.62 188.39 252.91 189.17 C253.21 189.95 253.50 190.73 253.80 191.52 C254.09 192.30 254.38 193.08 254.67 193.86 C254.97 194.65 255.25 195.43 255.54 196.22 C255.83 197.00 256.12 197.78 256.41 198.57 C256.69 199.35 256.98 200.14 257.26 200.92 C257.55 201.71 257.84 202.50 258.12 203.28 C258.40 204.07 258.69 204.85 258.97 205.64 C259.25 206.43 259.54 207.21 259.82 208.00 C260.10 208.79 260.38 209.57 260.66 210.36 C260.93 211.15 261.21 211.94 261.49 212.73 C261.76 213.51 262.04 214.30 262.31 215.09 C262.58 215.88 262.85 216.67 263.12 217.46 C263.39 218.26 263.66 219.05 263.93 219.84 C264.20 220.63 264.46 221.42 264.73 222.22 C264.99 223.01 265.25 223.80 265.52 224.59 C265.78 225.39 266.04 226.18 266.30 226.98 C266.56 227.77 266.82 228.56 267.08 229.36 C267.34 230.15 267.60 230.95 267.85 231.74 C268.11 232.54 268.37 233.33 268.62 234.13 C268.87 234.93 269.13 235.72 269.38 236.52 C269.63 237.32 269.88 238.11 270.13 238.91 C270.38 239.71 270.63 240.51 270.88 241.31 C271.12 242.10 271.37 242.90 271.61 243.70 C271.85 244.50 272.09 245.30 272.33 246.10 C272.57 246.90 272.81 247.71 273.04 248.51 C273.28 249.31 273.51 250.11 273.74 250.92 C273.97 251.72 274.20 252.53 274.42 253.33 C274.64 254.14 274.86 254.94 275.08 255.75 C275.30 256.56 275.51 257.37 275.73 258.18 C275.94 258.99 276.15 259.80 276.36 260.61 C276.57 261.42 276.78 262.23 277.00 263.03 C277.21 263.84 277.42 264.65 277.63 265.46 C277.85 266.27 278.06 267.08 278.28 267.89 C278.49 268.69 278.71 269.50 278.94 270.31 C279.16 271.11 279.38 271.92 279.62 272.72 C279.85 273.51 280.08 274.29 280.32 275.07 C280.56 275.86 280.81 276.64 281.06 277.42 C281.32 278.20 281.58 278.97 281.84 279.75 C282.11 280.52 282.39 281.29 282.67 282.06 C282.95 282.83 283.24 283.60 283.54 284.36 C283.83 285.13 284.14 285.89 284.45 286.65 C284.76 287.41 285.08 288.16 285.41 288.91 C285.73 289.67 286.06 290.42 286.40 291.17 C286.74 291.91 287.09 292.66 287.44 293.40 C287.80 294.14 288.16 294.88 288.52 295.62 C288.89 296.35 289.26 297.09 289.64 297.82 C290.01 298.55 290.39 299.28 290.78 300.00 C291.16 300.73 291.55 301.46 291.95 302.18 C292.34 302.90 292.74 303.62 293.14 304.34 C293.55 305.06 293.96 305.77 294.37 306.49 C294.78 307.20 295.20 307.91 295.62 308.62 C296.04 309.33 296.47 310.03 296.90 310.73 C297.33 311.44 297.76 312.14 298.21 312.85 C298.65 313.56 299.09 314.27 299.54 314.97 C299.99 315.68 300.45 316.38 300.91 317.08 C301.37 317.78 301.84 318.48 302.31 319.17 C302.78 319.86 303.25 320.55 303.73 321.24 C304.21 321.93 304.69 322.61 305.19 323.29 C305.68 323.97 306.17 324.65 306.67 325.32 C307.17 326.00 307.68 326.66 308.20 327.32 C308.72 327.98 309.24 328.63 309.78 329.27 C310.32 329.91 310.86 330.55 311.42 331.17 C311.98 331.79 312.54 332.40 313.13 333.00 C313.71 333.60 314.30 334.18 314.91 334.75 C315.52 335.32 316.14 335.88 316.78 336.42 C317.41 336.96 318.06 337.49 318.72 338.00 C319.37 338.51 320.04 339.01 320.73 339.48 C321.41 339.96 322.10 340.42 322.81 340.87 C323.51 341.31 324.23 341.74 324.95 342.15 C325.68 342.56 326.41 342.95 327.16 343.33 C327.90 343.71 328.66 344.07 329.42 344.41 C330.18 344.75 330.95 345.08 331.72 345.39 C332.49 345.71 333.27 346.01 334.06 346.30 C334.84 346.59 335.63 346.87 336.42 347.14 C337.21 347.42 338.01 347.68 338.80 347.94 C339.60 348.20 340.40 348.46 341.20 348.70 C342.00 348.95 342.80 349.19 343.60 349.43 C344.41 349.67 345.21 349.90 346.02 350.12 C346.83 350.34 347.64 350.56 348.44 350.77 C349.25 350.98 350.07 351.19 350.88 351.39 C351.69 351.59 352.50 351.78 353.32 351.97 C354.14 352.15 354.95 352.33 355.77 352.50 C356.59 352.67 357.41 352.83 358.23 352.99 C359.05 353.14 359.87 353.28 360.69 353.42 C361.52 353.56 362.34 353.68 363.17 353.80 C364.00 353.91 364.82 354.02 365.65 354.12 C366.48 354.22 367.31 354.31 368.14 354.39 C368.97 354.47 369.80 354.55 370.63 354.61 C371.47 354.68 372.30 354.74 373.13 354.79 C373.97 354.84 374.80 354.89 375.63 354.93 C376.47 354.96 377.30 355.00 378.14 355.03 C378.97 355.05 379.81 355.08 380.65 355.10 C381.48 355.12 382.32 355.13 383.15 355.14 C383.99 355.16 384.83 355.17 385.66 355.18 C386.50 355.18 387.34 355.19 388.17 355.19 C389.01 355.20 389.84 355.20 390.68 355.20 C391.52 355.21 392.35 355.21 393.19 355.21 C394.02 355.21 394.86 355.21 395.70 355.21 C396.53 355.20 397.37 355.20 398.20 355.20 C399.04 355.20 399.88 355.19 400.71 355.19 C401.55 355.18 402.38 355.18 403.22 355.17 C404.05 355.17 404.89 355.16 405.73 355.15 C406.56 355.15 407.40 355.14 408.23 355.13 C409.07 355.12 409.90 355.12 410.74 355.11 C411.58 355.10 412.41 355.09 413.25 355.09 C414.08 355.08 414.92 355.07 415.75 355.06 C416.59 355.06 417.43 355.05 418.26 355.04 C419.10 355.03 419.93 355.03 420.77 355.02 C421.60 355.01 422.44 355.01 423.28 355.00 C424.11 355.00 424.95 354.99 425.78 354.99 C426.62 354.98 427.46 354.98 428.29 354.98 C429.13 354.97 429.96 354.97 430.80 354.97 C431.64 354.97 432.47 354.97 433.31 354.97 C434.14 354.97 434.98 354.97 435.82 354.97 C436.65 354.97 437.49 354.98 438.33 354.98 C439.16 354.98 440.00 354.98 440.83 354.99 C441.67 354.99 442.51 354.99 443.35 354.99 C444.18 354.99 445.02 355.00 445.86 355.00 C446.69 355.00 447.53 355.00 448.37 354.99 C449.21 354.99 450.04 354.98 450.88 354.97 C451.72 354.96 452.55 354.95 453.39 354.93 C454.23 354.91 455.07 354.89 455.90 354.86 C456.74 354.83 457.57 354.79 458.41 354.75 C459.25 354.71 460.08 354.66 460.92 354.59 C461.75 354.53 462.59 354.47 463.42 354.38 C464.25 354.30 465.09 354.22 465.92 354.11 C466.75 354.01 467.58 353.89 468.40 353.75 C469.22 353.61 470.05 353.46 470.86 353.28 C471.67 353.10 472.48 352.89 473.27 352.66 C474.07 352.43 474.86 352.17 475.64 351.88 C476.42 351.59 477.19 351.27 477.95 350.93 C478.71 350.59 479.46 350.22 480.19 349.84 C480.93 349.45 481.66 349.04 482.37 348.61 C483.08 348.17 483.78 347.72 484.47 347.25 C485.17 346.78 485.84 346.29 486.51 345.79 C487.19 345.30 487.85 344.78 488.50 344.26 C489.15 343.73 489.80 343.20 490.44 342.65 C491.08 342.11 491.71 341.56 492.34 341.01 C492.97 340.45 493.59 339.89 494.20 339.32 C494.82 338.75 495.43 338.18 496.04 337.60 C496.65 337.03 497.25 336.44 497.85 335.86 C498.45 335.28 499.05 334.69 499.64 334.10 C500.23 333.50 500.81 332.91 501.39 332.31 C501.98 331.71 502.55 331.10 503.12 330.49 C503.69 329.88 504.25 329.26 504.80 328.64 C505.36 328.01 505.90 327.38 506.44 326.74 C506.98 326.11 507.52 325.47 508.04 324.82 C508.57 324.17 509.09 323.52 509.61 322.87 C510.13 322.21 510.64 321.55 511.16 320.89 C511.67 320.23 512.18 319.57 512.69 318.91 C513.20 318.25 513.71 317.58 514.22 316.92 C514.73 316.26 515.24 315.59 515.75 314.93 C516.26 314.27 516.77 313.61 517.28 312.95 C517.79 312.29 518.30 311.64 518.81 310.99 C519.33 310.33 519.84 309.69 520.35 309.04 C520.86 308.40 521.38 307.75 521.89 307.10 C522.40 306.46 522.92 305.81 523.43 305.17 C523.95 304.52 524.46 303.87 524.97 303.23 C525.49 302.58 526.00 301.93 526.51 301.29 C527.02 300.64 527.53 299.99 528.04 299.34 C528.55 298.69 529.06 298.04 529.56 297.39 C530.06 296.73 530.56 296.08 531.06 295.42 C531.56 294.76 532.06 294.11 532.55 293.44 C533.04 292.78 533.53 292.12 534.02 291.45 C534.50 290.79 534.99 290.12 535.47 289.45 C535.95 288.78 536.42 288.11 536.90 287.44 C537.37 286.76 537.84 286.09 538.31 285.41 C538.78 284.73 539.25 284.05 539.71 283.37 C540.17 282.69 540.63 282.01 541.09 281.32 C541.55 280.64 542.00 279.95 542.46 279.26 C542.92 278.58 543.37 277.89 543.82 277.20 C544.27 276.51 544.73 275.82 545.18 275.13 C545.63 274.45 546.08 273.76 546.53 273.07 C546.99 272.37 547.44 271.67 547.89 270.96 C548.34 270.26 548.79 269.56 549.24 268.85 C549.69 268.15 550.14 267.44 550.59 266.74 C551.04 266.04 551.49 265.33 551.94 264.63 C552.39 263.92 552.84 263.22 553.29 262.51 C553.73 261.80 554.18 261.10 554.62 260.39 C555.07 259.68 555.51 258.97 555.95 258.26 C556.39 257.55 556.83 256.84 557.26 256.13 C557.70 255.42 558.13 254.70 558.56 253.98 C558.98 253.27 559.41 252.55 559.83 251.83 C560.25 251.10 560.67 250.38 561.09 249.66 C561.50 248.93 561.91 248.21 562.32 247.48 C562.74 246.75 563.14 246.02 563.55 245.29 C563.96 244.56 564.36 243.83 564.77 243.10 C565.17 242.37 565.57 241.64 565.97 240.90 C566.37 240.17 566.77 239.43 567.17 238.70 C567.57 237.96 567.96 237.23 568.36 236.49 C568.75 235.76 569.15 235.02 569.54 234.28 C569.93 233.54 570.32 232.80 570.71 232.07 C571.10 231.33 571.49 230.59 571.88 229.85 C572.27 229.11 572.66 228.37 573.04 227.63 C573.43 226.89 573.82 226.14 574.20 225.40 C574.59 224.66 574.97 223.92 575.36 223.18 C575.74 222.43 576.12 221.69 576.50 220.95 C576.89 220.21 577.27 219.46 577.65 218.72 C578.03 217.98 578.41 217.23 578.79 216.49 C579.17 215.74 579.55 215.00 579.93 214.26 C580.31 213.51 580.69 212.77 581.07 212.02 C581.45 211.28 581.83 210.53 582.21 209.79 C582.59 209.04 582.97 208.30 583.35 207.56 C583.73 206.81 584.10 206.07 584.48 205.32 C584.86 204.58 585.24 203.83 585.62 203.09 C586.00 202.34 586.38 201.60 586.76 200.85 C587.14 200.11 587.52 199.36 587.90 198.62 C588.28 197.88 588.66 197.13 589.04 196.39 C589.42 195.64 589.80 194.90 590.19 194.16 C590.57 193.41 590.95 192.67 591.33 191.93 C591.71 191.18 592.10 190.44 592.48 189.70 C592.86 188.95 593.25 188.21 593.63 187.47 C594.01 186.72 594.40 185.98 594.78 185.24 C595.16 184.49 595.55 183.75 595.93 183.01 C596.32 182.26 596.71 181.52 597.09 180.78 C597.48 180.04 597.87 179.30 598.27 178.56 C598.66 177.82 599.06 177.08 599.46 176.34 C599.86 175.61 600.26 174.87 600.67 174.14 C601.08 173.41 601.49 172.68 601.91 171.96 C602.33 171.23 602.76 170.51 603.19 169.79 C603.63 169.07 604.07 168.36 604.52 167.66 C604.98 166.95 605.44 166.25 605.91 165.57 C606.39 164.88 606.88 164.20 607.39 163.54 C607.90 162.88 608.42 162.23 608.96 161.60 C609.50 160.97 610.06 160.35 610.64 159.75 C611.22 159.16 611.82 158.58 612.44 158.02 C613.05 157.47 613.69 156.94 614.35 156.44 C615.01 155.94 615.70 155.46 616.39 155.01 C617.09 154.56 617.81 154.14 618.54 153.73 C619.26 153.31 620.01 152.92 620.75 152.54 C621.49 152.15 622.62 151.59 623.00 151.40" stroke="#2d0a4b"/>
</g>
<g font-size="12.2" fill="#666a70">
<text transform="translate(58.4,368.6) scale(1.06,1)" font-size="12.3" text-anchor="end">0</text>
<text transform="translate(58.4,342.0) scale(1.06,1)" font-size="12.3" text-anchor="end">10</text>
<text transform="translate(58.4,316.1) scale(1.06,1)" font-size="12.3" text-anchor="end">20</text>
<text transform="translate(58.4,289.9) scale(1.06,1)" font-size="12.3" text-anchor="end">30</text>
<text transform="translate(58.4,263.9) scale(1.06,1)" font-size="12.3" text-anchor="end">40</text>
<text transform="translate(58.4,237.8) scale(1.06,1)" font-size="12.3" text-anchor="end">50</text>
<text transform="translate(58.4,211.6) scale(1.06,1)" font-size="12.3" text-anchor="end">60</text>
<text transform="translate(58.4,185.5) scale(1.06,1)" font-size="12.3" text-anchor="end">70</text>
<text transform="translate(58.4,159.4) scale(1.06,1)" font-size="12.3" text-anchor="end">80</text>
<text transform="translate(58.4,133.3) scale(1.06,1)" font-size="12.3" text-anchor="end">90</text>
<text transform="translate(58.4,106.8) scale(1.06,1)" font-size="12.3" text-anchor="end">100</text>
<text x="66.0" y="383.8" text-anchor="middle">200</text>
<text x="121.6" y="383.8" text-anchor="middle">300</text>
<text x="177.2" y="383.8" text-anchor="middle">400</text>
<text x="232.8" y="383.8" text-anchor="middle">500</text>
<text x="288.4" y="383.8" text-anchor="middle">600</text>
<text x="344.0" y="383.8" text-anchor="middle">700</text>
<text x="399.6" y="383.8" text-anchor="middle">800</text>
<text x="455.2" y="383.8" text-anchor="middle">900</text>
<text x="510.8" y="383.8" text-anchor="middle">1000</text>
<text x="566.4" y="383.8" text-anchor="middle">1500</text>
<text x="622.0" y="383.8" text-anchor="middle">2500</text>
</g>
<text x="343.6" y="405.3" font-size="12" fill="#555" text-anchor="middle">波长(nm)</text>
<text transform="translate(21,283) rotate(-90)" font-size="12" fill="#555">透过率（T%）</text>
<text x="278.5" y="47.7" font-size="16" fill="#4a4a4a" font-weight="400" letter-spacing="1">青蓝色玻璃曲线</text>
<rect x="152" y="74" width="19" height="3" fill="#2e2e2e"/>
<text x="175.8" y="81.4" font-size="16.5" fill="#7a7a7a" textLength="34.0" lengthAdjust="spacingAndGlyphs">QB9</text>
<rect x="225" y="74" width="19" height="3" fill="#e01212"/>
<text x="249.0" y="81.4" font-size="16.5" fill="#7a7a7a" textLength="39.6" lengthAdjust="spacingAndGlyphs">QB10</text>
<rect x="301" y="74" width="19" height="3" fill="#5e0058"/>
<text x="324.9" y="81.4" font-size="16.5" fill="#7a7a7a" textLength="38.4" lengthAdjust="spacingAndGlyphs">QB11</text>
<rect x="376.3" y="74" width="19" height="3" fill="#1a6b45"/>
<text x="400.0" y="81.4" font-size="16.5" fill="#7a7a7a" textLength="39.6" lengthAdjust="spacingAndGlyphs">QB12</text>
<rect x="452.2" y="74" width="19" height="3" fill="#e8601a"/>
<text x="475.9" y="81.4" font-size="16.5" fill="#7a7a7a" textLength="39.6" lengthAdjust="spacingAndGlyphs">QB13</text>
</svg>
</body></html>
